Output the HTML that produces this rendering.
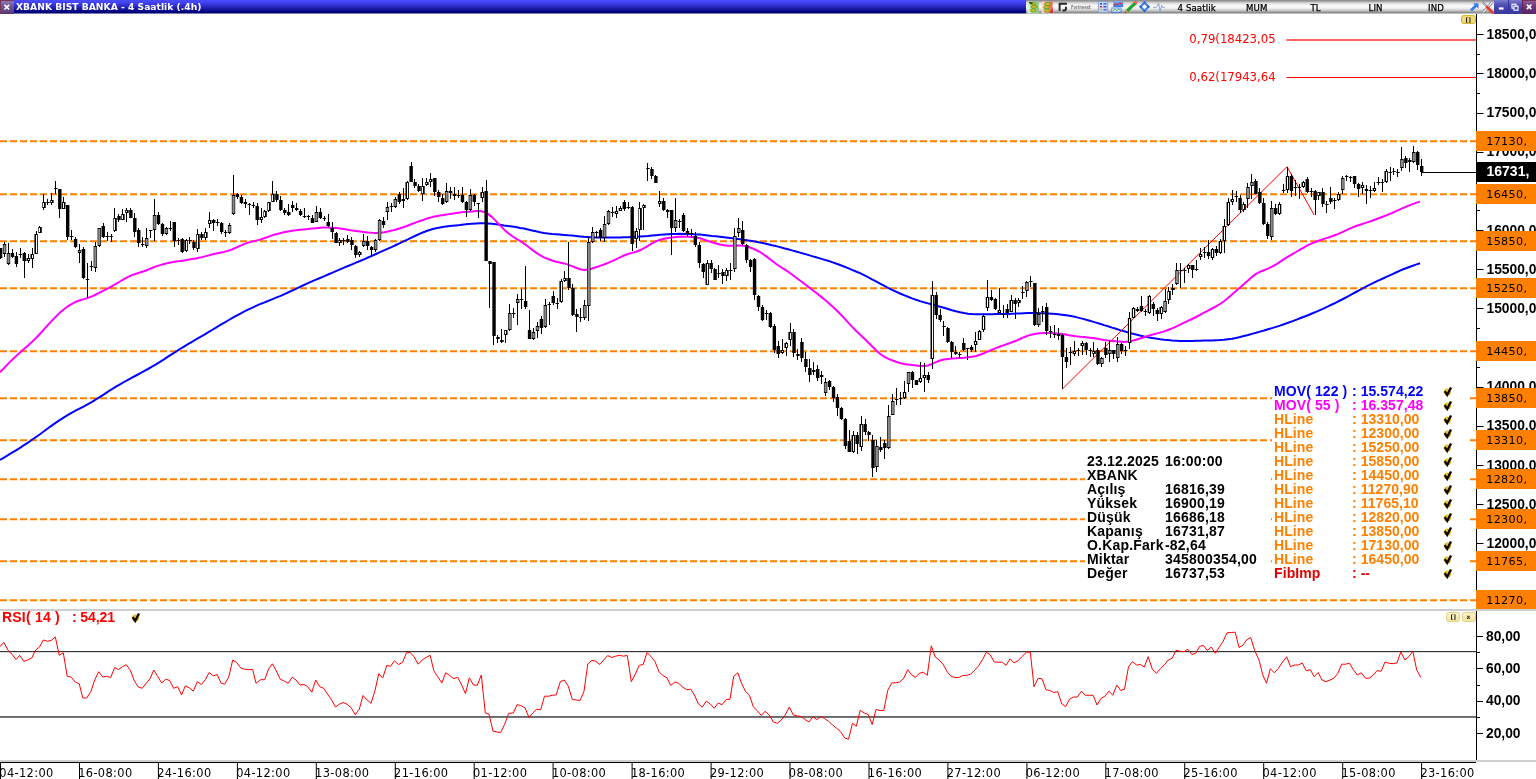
<!DOCTYPE html>
<html><head><meta charset="utf-8"><title>XBANK BIST BANKA - 4 Saatlik (.4h)</title>
<style>
html,body{margin:0;padding:0;background:#fff;}
body{width:1536px;height:779px;overflow:hidden;position:relative;font-family:"DejaVu Sans","Liberation Sans",sans-serif;}
.abs{position:absolute;white-space:nowrap;}
#tb{left:0;top:0;width:1536px;height:14px;background:linear-gradient(#4a4aff 0%,#4646fa 14%,#3030d0 40%,#1818a0 65%,#00007c 86%,#000070 93%,#6a6aa8 93%,#8a8abc 100%);}
#tb2{left:1026px;top:0;width:468px;height:14px;background:linear-gradient(#868686 0%,#9c9c9c 8%,#dcdcdc 22%,#fbfbfb 42%,#f2f2f2 58%,#c4c4c4 76%,#8c8c8c 90%,#7c7c7c 93%,#b4b4b4 93%,#c8c8c8 100%);}
.ttl{left:16px;top:0;height:13px;line-height:13px;color:#fff;font-weight:bold;font-size:9.2px;}
.tt{top:1.5px;height:13px;line-height:13.5px;color:#000;font-size:8.6px;-webkit-text-stroke:0.25px #000;letter-spacing:0.1px;}
.ol{left:1476px;width:60px;height:20px;background:#ff8000;color:#000;font-size:11.2px;line-height:20px;letter-spacing:0.33px;}
.ol span{position:absolute;left:10.2px;top:0.8px;}
.pl{left:1486.5px;font:bold 13.8px "Liberation Sans",sans-serif;color:#000;height:16px;line-height:16px;}
.lg{font:bold 14px "Liberation Sans",sans-serif;height:14px;line-height:14px;letter-spacing:0.2px;}
.tm{top:765.6px;font-size:11.4px;line-height:14px;color:#000;letter-spacing:0.36px;}
.fib{left:1189.3px;font-size:11.7px;color:#ff0000;line-height:14px;}
.wb{top:0;width:14px;height:13.5px;}
.yb{font-weight:bold;background:linear-gradient(#fbf2c4,#f4e4a0);border:1px solid #e2cf88;border-radius:2.5px;box-sizing:border-box;font-size:6px;line-height:7px;text-align:center;color:#222;}
</style></head><body>

<svg class="abs" style="left:0;top:0" width="1536" height="779" viewBox="0 0 1536 779">
<line x1="0" y1="141.3" x2="1476" y2="141.3" stroke="#ff8000" stroke-width="2" stroke-dasharray="7 3"/>
<line x1="0" y1="194.3" x2="1476" y2="194.3" stroke="#ff8000" stroke-width="2" stroke-dasharray="7 3"/>
<line x1="0" y1="241.3" x2="1476" y2="241.3" stroke="#ff8000" stroke-width="2" stroke-dasharray="7 3"/>
<line x1="0" y1="288.3" x2="1476" y2="288.3" stroke="#ff8000" stroke-width="2" stroke-dasharray="7 3"/>
<line x1="0" y1="351.3" x2="1476" y2="351.3" stroke="#ff8000" stroke-width="2" stroke-dasharray="7 3"/>
<line x1="0" y1="398.3" x2="1476" y2="398.3" stroke="#ff8000" stroke-width="2" stroke-dasharray="7 3"/>
<line x1="0" y1="440.3" x2="1476" y2="440.3" stroke="#ff8000" stroke-width="2" stroke-dasharray="7 3"/>
<line x1="0" y1="479.3" x2="1476" y2="479.3" stroke="#ff8000" stroke-width="2" stroke-dasharray="7 3"/>
<line x1="0" y1="519.3" x2="1476" y2="519.3" stroke="#ff8000" stroke-width="2" stroke-dasharray="7 3"/>
<line x1="0" y1="561.3" x2="1476" y2="561.3" stroke="#ff8000" stroke-width="2" stroke-dasharray="7 3"/>
<line x1="0" y1="600.3" x2="1476" y2="600.3" stroke="#ff8000" stroke-width="2" stroke-dasharray="7 3"/>
<line x1="1286.5" y1="40" x2="1476" y2="40" stroke="#ff6464" stroke-width="2"/>
<line x1="1286.5" y1="77.5" x2="1476" y2="77.5" stroke="#ff0000" stroke-width="1"/>
<polyline points="0.0,460.0 4.0,457.6 8.0,455.2 12.0,452.7 16.0,450.3 20.0,447.8 24.0,445.2 28.0,442.6 32.0,439.8 36.0,437.0 40.0,434.2 44.0,431.3 48.0,428.3 52.0,425.4 56.0,422.6 60.0,419.9 64.0,417.3 68.0,414.9 72.0,412.6 76.0,410.4 80.0,408.3 84.0,406.3 88.0,404.1 92.0,401.8 96.0,399.3 100.0,396.8 104.0,394.3 108.0,391.7 112.0,389.2 116.0,386.7 120.0,384.3 124.0,382.0 128.0,379.8 132.0,377.6 136.0,375.5 140.0,373.4 144.0,371.2 148.0,369.0 152.0,366.7 156.0,364.3 160.0,361.9 164.0,359.3 168.0,356.7 172.0,354.1 176.0,351.6 180.0,349.0 184.0,346.6 188.0,344.1 192.0,341.8 196.0,339.4 200.0,337.1 204.0,334.8 208.0,332.4 212.0,330.0 216.0,327.6 220.0,325.2 224.0,322.8 228.0,320.5 232.0,318.2 236.0,315.9 240.0,313.8 244.0,311.7 248.0,309.7 252.0,307.8 256.0,305.9 260.0,304.2 264.0,302.6 268.0,301.0 272.0,299.4 276.0,297.7 280.0,296.1 284.0,294.3 288.0,292.5 292.0,290.6 296.0,288.8 300.0,286.9 304.0,285.0 308.0,283.2 312.0,281.4 316.0,279.7 320.0,278.0 324.0,276.3 328.0,274.5 332.0,272.8 336.0,271.1 340.0,269.4 344.0,267.7 348.0,266.0 352.0,264.3 356.0,262.6 360.0,261.0 364.0,259.3 368.0,257.5 372.0,255.8 376.0,254.0 380.0,252.2 384.0,250.4 388.0,248.6 392.0,246.8 396.0,245.0 400.0,243.1 404.0,241.2 408.0,239.3 412.0,237.4 416.0,235.5 420.0,233.7 424.0,232.0 428.0,230.5 432.0,229.2 436.0,228.2 440.0,227.4 444.0,226.8 448.0,226.3 452.0,225.8 456.0,225.4 460.0,225.0 464.0,224.5 468.0,224.1 472.0,223.7 476.0,223.4 480.0,223.3 484.0,223.3 488.0,223.5 492.0,223.8 496.0,224.2 500.0,224.8 504.0,225.4 508.0,225.9 512.0,226.5 516.0,227.1 520.0,227.9 524.0,228.6 528.0,229.5 532.0,230.4 536.0,231.3 540.0,232.2 544.0,232.9 548.0,233.5 552.0,234.0 556.0,234.3 560.0,234.6 564.0,234.9 568.0,235.3 572.0,235.6 576.0,236.0 580.0,236.4 584.0,236.8 588.0,237.1 592.0,237.4 596.0,237.5 600.0,237.6 604.0,237.6 608.0,237.6 612.0,237.5 616.0,237.4 620.0,237.4 624.0,237.3 628.0,237.2 632.0,237.0 636.0,236.8 640.0,236.6 644.0,236.3 648.0,236.0 652.0,235.6 656.0,235.2 660.0,234.8 664.0,234.5 668.0,234.2 672.0,234.0 676.0,233.9 680.0,233.8 684.0,233.9 688.0,234.0 692.0,234.1 696.0,234.4 700.0,234.6 704.0,235.0 708.0,235.4 712.0,235.9 716.0,236.3 720.0,236.8 724.0,237.3 728.0,237.8 732.0,238.3 736.0,238.8 740.0,239.3 744.0,239.8 748.0,240.4 752.0,241.1 756.0,241.8 760.0,242.5 764.0,243.3 768.0,244.2 772.0,245.2 776.0,246.1 780.0,247.1 784.0,248.2 788.0,249.2 792.0,250.4 796.0,251.5 800.0,252.6 804.0,253.8 808.0,254.9 812.0,256.1 816.0,257.2 820.0,258.4 824.0,259.6 828.0,260.8 832.0,262.1 836.0,263.5 840.0,265.0 844.0,266.5 848.0,268.1 852.0,269.8 856.0,271.5 860.0,273.2 864.0,275.1 868.0,277.2 872.0,279.3 876.0,281.4 880.0,283.6 884.0,285.7 888.0,287.8 892.0,289.9 896.0,291.7 900.0,293.5 904.0,295.2 908.0,296.8 912.0,298.4 916.0,299.8 920.0,301.1 924.0,302.3 928.0,303.4 932.0,304.5 936.0,305.6 940.0,306.7 944.0,307.8 948.0,309.0 952.0,310.2 956.0,311.3 960.0,312.3 964.0,313.1 968.0,313.7 972.0,314.1 976.0,314.3 980.0,314.3 984.0,314.3 988.0,314.3 992.0,314.2 996.0,314.1 1000.0,314.1 1004.0,314.0 1008.0,313.9 1012.0,313.7 1016.0,313.6 1020.0,313.4 1024.0,313.2 1028.0,313.1 1032.0,313.1 1036.0,313.1 1040.0,313.2 1044.0,313.3 1048.0,313.5 1052.0,313.8 1056.0,314.1 1060.0,314.5 1064.0,315.0 1068.0,315.6 1072.0,316.3 1076.0,317.1 1080.0,318.1 1084.0,319.1 1088.0,320.2 1092.0,321.4 1096.0,322.6 1100.0,323.8 1104.0,325.1 1108.0,326.3 1112.0,327.6 1116.0,328.8 1120.0,330.1 1124.0,331.2 1128.0,332.4 1132.0,333.5 1136.0,334.5 1140.0,335.5 1144.0,336.4 1148.0,337.2 1152.0,337.9 1156.0,338.6 1160.0,339.2 1164.0,339.7 1168.0,340.1 1172.0,340.5 1176.0,340.7 1180.0,340.9 1184.0,341.0 1188.0,340.9 1192.0,340.9 1196.0,340.8 1200.0,340.7 1204.0,340.6 1208.0,340.5 1212.0,340.4 1216.0,340.2 1220.0,340.0 1224.0,339.7 1228.0,339.2 1232.0,338.7 1236.0,337.9 1240.0,337.0 1244.0,336.0 1248.0,335.0 1252.0,333.9 1256.0,332.8 1260.0,331.6 1264.0,330.5 1268.0,329.3 1272.0,328.1 1276.0,326.9 1280.0,325.6 1284.0,324.2 1288.0,322.8 1292.0,321.4 1296.0,319.9 1300.0,318.3 1304.0,316.8 1308.0,315.2 1312.0,313.5 1316.0,311.8 1320.0,310.1 1324.0,308.3 1328.0,306.4 1332.0,304.5 1336.0,302.6 1340.0,300.5 1344.0,298.5 1348.0,296.4 1352.0,294.2 1356.0,292.0 1360.0,289.9 1364.0,287.7 1368.0,285.7 1372.0,283.7 1376.0,281.7 1380.0,279.9 1384.0,278.0 1388.0,276.2 1392.0,274.4 1396.0,272.5 1400.0,270.7 1404.0,269.0 1408.0,267.5 1412.0,266.0 1416.0,264.6 1420.0,263.3" fill="none" stroke="#0000ff" stroke-width="2" stroke-linejoin="round"/>
<polyline points="0.0,372.3 4.0,368.1 8.0,363.9 12.0,359.9 16.0,356.1 20.0,352.4 24.0,348.9 28.0,345.5 32.0,341.9 36.0,338.0 40.0,333.7 44.0,329.3 48.0,324.9 52.0,320.6 56.0,316.5 60.0,312.6 64.0,309.2 68.0,306.2 72.0,303.8 76.0,301.7 80.0,300.2 84.0,299.1 88.0,297.9 92.0,296.4 96.0,294.5 100.0,292.4 104.0,290.3 108.0,288.3 112.0,286.2 116.0,283.9 120.0,281.5 124.0,279.1 128.0,276.9 132.0,275.1 136.0,273.7 140.0,272.5 144.0,271.2 148.0,269.7 152.0,268.0 156.0,266.4 160.0,265.1 164.0,264.0 168.0,263.0 172.0,262.2 176.0,261.6 180.0,261.1 184.0,260.5 188.0,259.8 192.0,259.1 196.0,258.4 200.0,257.6 204.0,256.6 208.0,255.6 212.0,254.5 216.0,253.6 220.0,252.7 224.0,251.9 228.0,250.9 232.0,249.5 236.0,247.7 240.0,245.8 244.0,244.1 248.0,242.6 252.0,241.6 256.0,240.6 260.0,239.6 264.0,238.3 268.0,236.9 272.0,235.4 276.0,234.2 280.0,233.2 284.0,232.3 288.0,231.5 292.0,230.8 296.0,230.3 300.0,229.8 304.0,229.4 308.0,229.0 312.0,228.6 316.0,228.2 320.0,227.8 324.0,227.6 328.0,227.5 332.0,227.7 336.0,228.0 340.0,228.5 344.0,229.1 348.0,229.8 352.0,230.4 356.0,231.1 360.0,231.6 364.0,232.1 368.0,232.5 372.0,232.8 376.0,232.9 380.0,232.7 384.0,232.2 388.0,231.5 392.0,230.6 396.0,229.5 400.0,228.3 404.0,227.0 408.0,225.5 412.0,224.0 416.0,222.4 420.0,221.0 424.0,219.6 428.0,218.2 432.0,217.1 436.0,216.2 440.0,215.5 444.0,214.9 448.0,214.3 452.0,213.7 456.0,213.1 460.0,212.6 464.0,212.1 468.0,211.7 472.0,211.4 476.0,211.0 480.0,211.1 484.0,211.9 488.0,213.9 492.0,217.1 496.0,221.1 500.0,225.4 504.0,229.4 508.0,233.0 512.0,236.0 516.0,238.6 520.0,241.0 524.0,243.6 528.0,246.5 532.0,249.6 536.0,252.6 540.0,255.1 544.0,257.3 548.0,259.0 552.0,260.5 556.0,261.7 560.0,262.6 564.0,263.4 568.0,264.6 572.0,266.1 576.0,267.7 580.0,269.2 584.0,269.9 588.0,269.6 592.0,268.5 596.0,267.2 600.0,265.9 604.0,264.5 608.0,262.9 612.0,261.1 616.0,259.3 620.0,257.4 624.0,255.5 628.0,254.0 632.0,252.9 636.0,251.8 640.0,250.3 644.0,248.2 648.0,245.9 652.0,243.4 656.0,241.4 660.0,239.8 664.0,238.7 668.0,237.9 672.0,237.4 676.0,237.0 680.0,236.8 684.0,236.7 688.0,236.7 692.0,237.0 696.0,237.4 700.0,238.2 704.0,239.6 708.0,241.0 712.0,242.4 716.0,243.5 720.0,244.5 724.0,245.2 728.0,245.8 732.0,245.8 736.0,245.6 740.0,245.5 744.0,245.8 748.0,246.8 752.0,248.2 756.0,250.0 760.0,252.0 764.0,254.7 768.0,257.6 772.0,260.7 776.0,263.8 780.0,266.5 784.0,269.1 788.0,271.7 792.0,274.5 796.0,277.5 800.0,280.5 804.0,283.5 808.0,286.6 812.0,289.7 816.0,292.8 820.0,295.9 824.0,299.1 828.0,302.5 832.0,306.0 836.0,309.7 840.0,313.7 844.0,317.9 848.0,322.3 852.0,326.6 856.0,330.7 860.0,334.5 864.0,338.3 868.0,342.2 872.0,346.2 876.0,350.2 880.0,353.7 884.0,356.6 888.0,358.6 892.0,360.2 896.0,361.7 900.0,363.0 904.0,363.9 908.0,364.6 912.0,364.9 916.0,365.4 920.0,365.9 924.0,366.1 928.0,365.5 932.0,363.9 936.0,362.1 940.0,360.5 944.0,359.6 948.0,358.9 952.0,358.5 956.0,358.3 960.0,358.0 964.0,357.7 968.0,357.3 972.0,356.8 976.0,356.0 980.0,354.8 984.0,353.2 988.0,351.4 992.0,349.7 996.0,348.1 1000.0,346.5 1004.0,345.1 1008.0,343.7 1012.0,342.3 1016.0,340.8 1020.0,339.0 1024.0,337.2 1028.0,335.6 1032.0,334.5 1036.0,333.8 1040.0,333.3 1044.0,333.0 1048.0,332.9 1052.0,332.9 1056.0,333.2 1060.0,333.7 1064.0,334.3 1068.0,335.1 1072.0,335.7 1076.0,336.3 1080.0,336.7 1084.0,337.0 1088.0,337.4 1092.0,337.9 1096.0,338.6 1100.0,339.3 1104.0,340.0 1108.0,340.5 1112.0,340.9 1116.0,341.3 1120.0,341.6 1124.0,341.9 1128.0,341.6 1132.0,340.9 1136.0,339.8 1140.0,338.5 1144.0,337.2 1148.0,335.9 1152.0,334.7 1156.0,333.6 1160.0,332.6 1164.0,331.4 1168.0,330.0 1172.0,328.4 1176.0,326.6 1180.0,324.6 1184.0,322.7 1188.0,320.9 1192.0,319.0 1196.0,317.0 1200.0,314.8 1204.0,312.6 1208.0,310.6 1212.0,308.5 1216.0,306.3 1220.0,304.0 1224.0,301.2 1228.0,298.0 1232.0,294.4 1236.0,290.9 1240.0,287.4 1244.0,283.9 1248.0,280.4 1252.0,276.9 1256.0,273.9 1260.0,271.8 1264.0,270.2 1268.0,268.6 1272.0,266.7 1276.0,264.5 1280.0,261.9 1284.0,259.2 1288.0,256.7 1292.0,254.3 1296.0,252.0 1300.0,249.7 1304.0,247.3 1308.0,245.2 1312.0,243.3 1316.0,241.7 1320.0,240.2 1324.0,238.9 1328.0,237.6 1332.0,236.3 1336.0,234.8 1340.0,233.1 1344.0,231.3 1348.0,229.4 1352.0,227.6 1356.0,226.0 1360.0,224.7 1364.0,223.4 1368.0,222.1 1372.0,220.8 1376.0,219.3 1380.0,217.8 1384.0,216.2 1388.0,214.6 1392.0,213.0 1396.0,211.2 1400.0,209.4 1404.0,207.7 1408.0,205.9 1412.0,204.4 1416.0,202.9 1420.0,201.6" fill="none" stroke="#ff00ff" stroke-width="2" stroke-linejoin="round"/>
<polyline points="1062.2,389.2 1287,166.7 1314.2,215" fill="none" stroke="#ff0000" stroke-width="1"/>
<g fill="#000"><rect x="0" y="248" width="1" height="11"/><rect x="-1.10" y="248" width="3.4" height="10"/><rect x="4" y="242" width="1" height="15"/><rect x="2.85" y="244" width="3.4" height="10"/><rect x="3.45" y="245" width="2.2" height="8" fill="#8a8a8a"/><rect x="8" y="243" width="1" height="22"/><rect x="6.79" y="253" width="3.4" height="11"/><rect x="7.39" y="254" width="2.2" height="9" fill="#8a8a8a"/><rect x="12" y="249" width="1" height="9"/><rect x="10.74" y="253" width="3.4" height="4"/><rect x="16" y="252" width="1" height="15"/><rect x="14.69" y="256" width="3.4" height="8"/><rect x="20" y="248" width="1" height="10"/><rect x="18.64" y="254" width="3.4" height="1"/><rect x="24" y="252" width="1" height="26"/><rect x="22.59" y="253" width="3.4" height="8"/><rect x="28" y="254" width="1" height="9"/><rect x="26.53" y="258" width="3.4" height="3"/><rect x="28" y="259" width="1" height="1" fill="#fff"/><rect x="32" y="248" width="1" height="20"/><rect x="30.48" y="254" width="3.4" height="5"/><rect x="32" y="255" width="1" height="3" fill="#fff"/><rect x="36" y="231" width="1" height="23"/><rect x="34.43" y="234" width="3.4" height="20"/><rect x="36" y="235" width="1" height="18" fill="#fff"/><rect x="39" y="226" width="1" height="7"/><rect x="38.37" y="227" width="3.4" height="6"/><rect x="39" y="228" width="1" height="4" fill="#fff"/><rect x="43" y="194" width="1" height="16"/><rect x="42.32" y="202" width="3.4" height="6"/><rect x="43" y="203" width="1" height="4" fill="#fff"/><rect x="47" y="199" width="1" height="6"/><rect x="46.27" y="202" width="3.4" height="1"/><rect x="51" y="193" width="1" height="12"/><rect x="50.22" y="200" width="3.4" height="3"/><rect x="51" y="201" width="1" height="1" fill="#fff"/><rect x="55" y="181" width="1" height="13"/><rect x="54.16" y="188" width="3.4" height="1"/><rect x="59" y="189" width="1" height="29"/><rect x="58.11" y="189" width="3.4" height="20"/><rect x="63" y="197" width="1" height="12"/><rect x="62.06" y="202" width="3.4" height="7"/><rect x="63" y="203" width="1" height="5" fill="#fff"/><rect x="67" y="205" width="1" height="35"/><rect x="66.01" y="205" width="3.4" height="32"/><rect x="71" y="230" width="1" height="10"/><rect x="69.95" y="236" width="3.4" height="1"/><rect x="75" y="237" width="1" height="11"/><rect x="73.90" y="239" width="3.4" height="8"/><rect x="79" y="244" width="1" height="19"/><rect x="77.85" y="250" width="3.4" height="3"/><rect x="78.45" y="251" width="2.2" height="1" fill="#8a8a8a"/><rect x="83" y="247" width="1" height="32"/><rect x="81.80" y="249" width="3.4" height="29"/><rect x="87" y="263" width="1" height="35"/><rect x="85.74" y="279" width="3.4" height="1"/><rect x="91" y="261" width="1" height="10"/><rect x="89.69" y="266" width="3.4" height="1"/><rect x="95" y="242" width="1" height="30"/><rect x="93.64" y="246" width="3.4" height="22"/><rect x="94.24" y="247" width="2.2" height="20" fill="#8a8a8a"/><rect x="99" y="228" width="1" height="19"/><rect x="97.59" y="228" width="3.4" height="18"/><rect x="98.19" y="229" width="2.2" height="16" fill="#8a8a8a"/><rect x="103" y="223" width="1" height="15"/><rect x="101.53" y="226" width="3.4" height="11"/><rect x="107" y="232" width="1" height="9"/><rect x="105.48" y="236" width="3.4" height="1"/><rect x="111" y="234" width="1" height="8"/><rect x="109.43" y="236" width="3.4" height="1"/><rect x="114" y="208" width="1" height="24"/><rect x="113.38" y="218" width="3.4" height="13"/><rect x="114" y="219" width="1" height="11" fill="#fff"/><rect x="118" y="214" width="1" height="8"/><rect x="117.32" y="216" width="3.4" height="4"/><rect x="122" y="209" width="1" height="11"/><rect x="121.27" y="214" width="3.4" height="6"/><rect x="122" y="215" width="1" height="4" fill="#fff"/><rect x="126" y="208" width="1" height="14"/><rect x="125.22" y="210" width="3.4" height="3"/><rect x="126" y="211" width="1" height="1" fill="#fff"/><rect x="130" y="208" width="1" height="10"/><rect x="129.17" y="210" width="3.4" height="8"/><rect x="134" y="213" width="1" height="24"/><rect x="133.12" y="218" width="3.4" height="14"/><rect x="138" y="228" width="1" height="19"/><rect x="137.06" y="230" width="3.4" height="13"/><rect x="142" y="237" width="1" height="10"/><rect x="141.01" y="244" width="3.4" height="1"/><rect x="146" y="228" width="1" height="20"/><rect x="144.96" y="238" width="3.4" height="8"/><rect x="145.56" y="239" width="2.2" height="6" fill="#8a8a8a"/><rect x="150" y="230" width="1" height="8"/><rect x="148.91" y="230" width="3.4" height="1"/><rect x="154" y="199" width="1" height="42"/><rect x="152.85" y="215" width="3.4" height="15"/><rect x="153.45" y="216" width="2.2" height="13" fill="#8a8a8a"/><rect x="158" y="212" width="1" height="13"/><rect x="156.80" y="215" width="3.4" height="9"/><rect x="162" y="223" width="1" height="13"/><rect x="160.75" y="224" width="3.4" height="10"/><rect x="166" y="227" width="1" height="8"/><rect x="164.69" y="228" width="3.4" height="6"/><rect x="165.29" y="229" width="2.2" height="4" fill="#8a8a8a"/><rect x="170" y="221" width="1" height="10"/><rect x="168.64" y="228" width="3.4" height="1"/><rect x="174" y="222" width="1" height="25"/><rect x="172.59" y="222" width="3.4" height="19"/><rect x="178" y="238" width="1" height="7"/><rect x="176.54" y="240" width="3.4" height="1"/><rect x="182" y="238" width="1" height="15"/><rect x="180.48" y="239" width="3.4" height="13"/><rect x="186" y="239" width="1" height="13"/><rect x="184.43" y="240" width="3.4" height="11"/><rect x="186" y="241" width="1" height="9" fill="#fff"/><rect x="189" y="237" width="1" height="7"/><rect x="188.38" y="240" width="3.4" height="1"/><rect x="193" y="240" width="1" height="10"/><rect x="192.33" y="242" width="3.4" height="6"/><rect x="197" y="229" width="1" height="23"/><rect x="196.28" y="234" width="3.4" height="15"/><rect x="197" y="235" width="1" height="13" fill="#fff"/><rect x="201" y="232" width="1" height="8"/><rect x="200.22" y="234" width="3.4" height="4"/><rect x="205" y="228" width="1" height="12"/><rect x="204.17" y="232" width="3.4" height="6"/><rect x="205" y="233" width="1" height="4" fill="#fff"/><rect x="209" y="212" width="1" height="16"/><rect x="208.12" y="220" width="3.4" height="4"/><rect x="209" y="221" width="1" height="2" fill="#fff"/><rect x="213" y="219" width="1" height="12"/><rect x="212.06" y="220" width="3.4" height="3"/><rect x="217" y="219" width="1" height="7"/><rect x="216.01" y="222" width="3.4" height="1"/><rect x="221" y="222" width="1" height="12"/><rect x="219.96" y="223" width="3.4" height="9"/><rect x="225" y="230" width="1" height="7"/><rect x="223.91" y="232" width="3.4" height="1"/><rect x="229" y="223" width="1" height="11"/><rect x="227.85" y="225" width="3.4" height="8"/><rect x="228.45" y="226" width="2.2" height="6" fill="#8a8a8a"/><rect x="233" y="175" width="1" height="40"/><rect x="231.80" y="195" width="3.4" height="19"/><rect x="232.40" y="196" width="2.2" height="17" fill="#8a8a8a"/><rect x="237" y="193" width="1" height="6"/><rect x="235.75" y="194" width="3.4" height="3"/><rect x="241" y="195" width="1" height="9"/><rect x="239.70" y="197" width="3.4" height="6"/><rect x="245" y="199" width="1" height="9"/><rect x="243.64" y="202" width="3.4" height="2"/><rect x="249" y="203" width="1" height="12"/><rect x="247.59" y="204" width="3.4" height="1"/><rect x="253" y="202" width="1" height="6"/><rect x="251.54" y="205" width="3.4" height="1"/><rect x="257" y="203" width="1" height="22"/><rect x="255.49" y="206" width="3.4" height="14"/><rect x="261" y="208" width="1" height="15"/><rect x="259.44" y="217" width="3.4" height="3"/><rect x="261" y="218" width="1" height="1" fill="#fff"/><rect x="264" y="210" width="1" height="8"/><rect x="263.38" y="211" width="3.4" height="6"/><rect x="264" y="212" width="1" height="4" fill="#fff"/><rect x="268" y="202" width="1" height="10"/><rect x="267.33" y="202" width="3.4" height="9"/><rect x="268" y="203" width="1" height="7" fill="#fff"/><rect x="272" y="181" width="1" height="21"/><rect x="271.28" y="194" width="3.4" height="8"/><rect x="272" y="195" width="1" height="6" fill="#fff"/><rect x="276" y="191" width="1" height="11"/><rect x="275.23" y="194" width="3.4" height="6"/><rect x="280" y="196" width="1" height="15"/><rect x="279.17" y="200" width="3.4" height="10"/><rect x="284" y="208" width="1" height="7"/><rect x="283.12" y="210" width="3.4" height="3"/><rect x="288" y="204" width="1" height="12"/><rect x="287.07" y="212" width="3.4" height="3"/><rect x="292" y="201" width="1" height="11"/><rect x="291.02" y="205" width="3.4" height="3"/><rect x="296" y="203" width="1" height="8"/><rect x="294.96" y="208" width="3.4" height="2"/><rect x="300" y="209" width="1" height="7"/><rect x="298.91" y="211" width="3.4" height="4"/><rect x="304" y="208" width="1" height="10"/><rect x="302.86" y="216" width="3.4" height="1"/><rect x="308" y="215" width="1" height="5"/><rect x="306.81" y="216" width="3.4" height="1"/><rect x="312" y="215" width="1" height="8"/><rect x="310.75" y="218" width="3.4" height="5"/><rect x="316" y="206" width="1" height="16"/><rect x="314.70" y="212" width="3.4" height="10"/><rect x="315.30" y="213" width="2.2" height="8" fill="#8a8a8a"/><rect x="320" y="208" width="1" height="11"/><rect x="318.65" y="212" width="3.4" height="6"/><rect x="324" y="216" width="1" height="5"/><rect x="322.60" y="218" width="3.4" height="1"/><rect x="328" y="214" width="1" height="13"/><rect x="326.54" y="222" width="3.4" height="4"/><rect x="332" y="222" width="1" height="17"/><rect x="330.49" y="228" width="3.4" height="4"/><rect x="336" y="232" width="1" height="11"/><rect x="334.44" y="233" width="3.4" height="10"/><rect x="339" y="238" width="1" height="8"/><rect x="338.38" y="240" width="3.4" height="3"/><rect x="339" y="241" width="1" height="1" fill="#fff"/><rect x="343" y="238" width="1" height="7"/><rect x="342.33" y="240" width="3.4" height="1"/><rect x="347" y="235" width="1" height="8"/><rect x="346.28" y="239" width="3.4" height="3"/><rect x="351" y="237" width="1" height="13"/><rect x="350.23" y="240" width="3.4" height="5"/><rect x="355" y="245" width="1" height="13"/><rect x="354.18" y="246" width="3.4" height="9"/><rect x="359" y="251" width="1" height="6"/><rect x="358.12" y="252" width="3.4" height="3"/><rect x="359" y="253" width="1" height="1" fill="#fff"/><rect x="363" y="234" width="1" height="13"/><rect x="362.07" y="241" width="3.4" height="5"/><rect x="362.67" y="242" width="2.2" height="3" fill="#8a8a8a"/><rect x="367" y="236" width="1" height="14"/><rect x="366.02" y="241" width="3.4" height="5"/><rect x="371" y="246" width="1" height="10"/><rect x="369.97" y="247" width="3.4" height="3"/><rect x="375" y="239" width="1" height="13"/><rect x="373.91" y="240" width="3.4" height="10"/><rect x="374.51" y="241" width="2.2" height="8" fill="#8a8a8a"/><rect x="379" y="219" width="1" height="22"/><rect x="377.86" y="220" width="3.4" height="20"/><rect x="378.46" y="221" width="2.2" height="18" fill="#8a8a8a"/><rect x="383" y="217" width="1" height="11"/><rect x="381.81" y="221" width="3.4" height="4"/><rect x="387" y="202" width="1" height="18"/><rect x="385.75" y="207" width="3.4" height="5"/><rect x="386.36" y="208" width="2.2" height="3" fill="#8a8a8a"/><rect x="391" y="203" width="1" height="9"/><rect x="389.70" y="206" width="3.4" height="1"/><rect x="395" y="197" width="1" height="11"/><rect x="393.65" y="199" width="3.4" height="8"/><rect x="394.25" y="200" width="2.2" height="6" fill="#8a8a8a"/><rect x="399" y="192" width="1" height="12"/><rect x="397.60" y="194" width="3.4" height="8"/><rect x="403" y="188" width="1" height="20"/><rect x="401.55" y="199" width="3.4" height="2"/><rect x="407" y="181" width="1" height="19"/><rect x="405.49" y="182" width="3.4" height="17"/><rect x="407" y="183" width="1" height="15" fill="#fff"/><rect x="411" y="162" width="1" height="20"/><rect x="409.44" y="166" width="3.4" height="16"/><rect x="414" y="179" width="1" height="9"/><rect x="413.39" y="182" width="3.4" height="4"/><rect x="418" y="184" width="1" height="8"/><rect x="417.34" y="186" width="3.4" height="5"/><rect x="422" y="178" width="1" height="23"/><rect x="421.28" y="186" width="3.4" height="8"/><rect x="422" y="187" width="1" height="6" fill="#fff"/><rect x="426" y="178" width="1" height="8"/><rect x="425.23" y="182" width="3.4" height="3"/><rect x="426" y="183" width="1" height="1" fill="#fff"/><rect x="430" y="173" width="1" height="14"/><rect x="429.18" y="179" width="3.4" height="3"/><rect x="430" y="180" width="1" height="1" fill="#fff"/><rect x="434" y="178" width="1" height="18"/><rect x="433.12" y="178" width="3.4" height="14"/><rect x="438" y="190" width="1" height="12"/><rect x="437.07" y="192" width="3.4" height="5"/><rect x="442" y="194" width="1" height="11"/><rect x="441.02" y="198" width="3.4" height="6"/><rect x="446" y="183" width="1" height="20"/><rect x="444.97" y="191" width="3.4" height="11"/><rect x="445.57" y="192" width="2.2" height="9" fill="#8a8a8a"/><rect x="450" y="187" width="1" height="12"/><rect x="448.92" y="191" width="3.4" height="2"/><rect x="454" y="187" width="1" height="13"/><rect x="452.86" y="194" width="3.4" height="2"/><rect x="458" y="190" width="1" height="8"/><rect x="456.81" y="195" width="3.4" height="1"/><rect x="462" y="187" width="1" height="16"/><rect x="460.76" y="195" width="3.4" height="7"/><rect x="466" y="201" width="1" height="16"/><rect x="464.70" y="202" width="3.4" height="8"/><rect x="470" y="189" width="1" height="22"/><rect x="468.65" y="195" width="3.4" height="15"/><rect x="469.25" y="196" width="2.2" height="13" fill="#8a8a8a"/><rect x="474" y="194" width="1" height="12"/><rect x="472.60" y="195" width="3.4" height="7"/><rect x="478" y="203" width="1" height="15"/><rect x="476.55" y="203" width="3.4" height="1"/><rect x="482" y="187" width="1" height="15"/><rect x="480.50" y="192" width="3.4" height="6"/><rect x="482" y="193" width="1" height="4" fill="#fff"/><rect x="486" y="180" width="1" height="81"/><rect x="484.44" y="191" width="3.4" height="70"/><rect x="489" y="261" width="1" height="47"/><rect x="488.39" y="261" width="3.4" height="3"/><rect x="493" y="262" width="1" height="83"/><rect x="492.34" y="262" width="3.4" height="74"/><rect x="497" y="335" width="1" height="8"/><rect x="496.29" y="337" width="3.4" height="2"/><rect x="501" y="329" width="1" height="14"/><rect x="500.23" y="340" width="3.4" height="2"/><rect x="505" y="330" width="1" height="13"/><rect x="504.18" y="330" width="3.4" height="5"/><rect x="505" y="331" width="1" height="3" fill="#fff"/><rect x="509" y="304" width="1" height="27"/><rect x="508.13" y="313" width="3.4" height="17"/><rect x="508.73" y="314" width="2.2" height="15" fill="#8a8a8a"/><rect x="513" y="308" width="1" height="10"/><rect x="512.07" y="313" width="3.4" height="1"/><rect x="517" y="294" width="1" height="31"/><rect x="516.02" y="299" width="3.4" height="4"/><rect x="516.62" y="300" width="2.2" height="2" fill="#8a8a8a"/><rect x="521" y="289" width="1" height="20"/><rect x="519.97" y="299" width="3.4" height="1"/><rect x="525" y="266" width="1" height="43"/><rect x="523.92" y="301" width="3.4" height="6"/><rect x="529" y="310" width="1" height="29"/><rect x="527.86" y="330" width="3.4" height="9"/><rect x="533" y="328" width="1" height="12"/><rect x="531.81" y="332" width="3.4" height="7"/><rect x="532.41" y="333" width="2.2" height="5" fill="#8a8a8a"/><rect x="537" y="322" width="1" height="16"/><rect x="535.76" y="326" width="3.4" height="5"/><rect x="536.36" y="327" width="2.2" height="3" fill="#8a8a8a"/><rect x="541" y="316" width="1" height="18"/><rect x="539.71" y="319" width="3.4" height="9"/><rect x="545" y="299" width="1" height="29"/><rect x="543.65" y="305" width="3.4" height="22"/><rect x="544.25" y="306" width="2.2" height="20" fill="#8a8a8a"/><rect x="549" y="302" width="1" height="23"/><rect x="547.60" y="304" width="3.4" height="1"/><rect x="553" y="291" width="1" height="14"/><rect x="551.55" y="296" width="3.4" height="7"/><rect x="557" y="298" width="1" height="11"/><rect x="555.50" y="303" width="3.4" height="1"/><rect x="561" y="279" width="1" height="24"/><rect x="559.44" y="281" width="3.4" height="21"/><rect x="561" y="282" width="1" height="19" fill="#fff"/><rect x="564" y="271" width="1" height="11"/><rect x="563.39" y="278" width="3.4" height="3"/><rect x="564" y="279" width="1" height="1" fill="#fff"/><rect x="568" y="242" width="1" height="48"/><rect x="567.34" y="278" width="3.4" height="10"/><rect x="572" y="284" width="1" height="32"/><rect x="571.29" y="288" width="3.4" height="27"/><rect x="576" y="309" width="1" height="23"/><rect x="575.23" y="314" width="3.4" height="3"/><rect x="580" y="308" width="1" height="14"/><rect x="579.18" y="317" width="3.4" height="1"/><rect x="584" y="300" width="1" height="20"/><rect x="583.13" y="305" width="3.4" height="13"/><rect x="583.73" y="306" width="2.2" height="11" fill="#8a8a8a"/><rect x="588" y="237" width="1" height="84"/><rect x="587.08" y="242" width="3.4" height="64"/><rect x="587.68" y="243" width="2.2" height="62" fill="#8a8a8a"/><rect x="592" y="227" width="1" height="16"/><rect x="591.02" y="232" width="3.4" height="10"/><rect x="591.62" y="233" width="2.2" height="8" fill="#8a8a8a"/><rect x="596" y="231" width="1" height="7"/><rect x="594.97" y="232" width="3.4" height="1"/><rect x="600" y="228" width="1" height="13"/><rect x="598.92" y="230" width="3.4" height="8"/><rect x="604" y="216" width="1" height="26"/><rect x="602.87" y="224" width="3.4" height="14"/><rect x="603.47" y="225" width="2.2" height="12" fill="#8a8a8a"/><rect x="608" y="210" width="1" height="15"/><rect x="606.81" y="211" width="3.4" height="13"/><rect x="607.41" y="212" width="2.2" height="11" fill="#8a8a8a"/><rect x="612" y="207" width="1" height="10"/><rect x="610.76" y="212" width="3.4" height="1"/><rect x="616" y="206" width="1" height="12"/><rect x="614.71" y="211" width="3.4" height="3"/><rect x="616" y="212" width="1" height="1" fill="#fff"/><rect x="620" y="206" width="1" height="5"/><rect x="618.66" y="208" width="3.4" height="3"/><rect x="620" y="209" width="1" height="1" fill="#fff"/><rect x="624" y="200" width="1" height="11"/><rect x="622.60" y="202" width="3.4" height="7"/><rect x="628" y="202" width="1" height="7"/><rect x="626.55" y="207" width="3.4" height="1"/><rect x="632" y="206" width="1" height="45"/><rect x="630.50" y="207" width="3.4" height="37"/><rect x="636" y="228" width="1" height="20"/><rect x="634.45" y="231" width="3.4" height="8"/><rect x="636" y="232" width="1" height="6" fill="#fff"/><rect x="639" y="202" width="1" height="39"/><rect x="638.39" y="208" width="3.4" height="22"/><rect x="639" y="209" width="1" height="20" fill="#fff"/><rect x="643" y="204" width="1" height="26"/><rect x="642.34" y="205" width="3.4" height="3"/><rect x="643" y="206" width="1" height="1" fill="#fff"/><rect x="647" y="163" width="1" height="18"/><rect x="646.29" y="168" width="3.4" height="1"/><rect x="651" y="167" width="1" height="12"/><rect x="650.24" y="169" width="3.4" height="7"/><rect x="655" y="175" width="1" height="8"/><rect x="654.18" y="176" width="3.4" height="7"/><rect x="659" y="191" width="1" height="16"/><rect x="658.13" y="201" width="3.4" height="3"/><rect x="659" y="202" width="1" height="1" fill="#fff"/><rect x="663" y="198" width="1" height="13"/><rect x="662.08" y="201" width="3.4" height="9"/><rect x="667" y="209" width="1" height="9"/><rect x="666.03" y="210" width="3.4" height="2"/><rect x="671" y="210" width="1" height="45"/><rect x="669.97" y="210" width="3.4" height="18"/><rect x="675" y="198" width="1" height="34"/><rect x="673.92" y="220" width="3.4" height="8"/><rect x="674.52" y="221" width="2.2" height="6" fill="#8a8a8a"/><rect x="679" y="219" width="1" height="9"/><rect x="677.87" y="221" width="3.4" height="1"/><rect x="683" y="213" width="1" height="19"/><rect x="681.82" y="215" width="3.4" height="16"/><rect x="687" y="228" width="1" height="9"/><rect x="685.76" y="231" width="3.4" height="3"/><rect x="691" y="229" width="1" height="9"/><rect x="689.71" y="233" width="3.4" height="1"/><rect x="695" y="232" width="1" height="15"/><rect x="693.66" y="236" width="3.4" height="9"/><rect x="699" y="242" width="1" height="26"/><rect x="697.61" y="245" width="3.4" height="18"/><rect x="703" y="263" width="1" height="15"/><rect x="701.55" y="264" width="3.4" height="8"/><rect x="707" y="260" width="1" height="25"/><rect x="705.50" y="263" width="3.4" height="22"/><rect x="707" y="264" width="1" height="20" fill="#fff"/><rect x="711" y="260" width="1" height="13"/><rect x="709.45" y="263" width="3.4" height="6"/><rect x="714" y="268" width="1" height="12"/><rect x="713.40" y="269" width="3.4" height="11"/><rect x="718" y="265" width="1" height="13"/><rect x="717.34" y="273" width="3.4" height="1"/><rect x="722" y="269" width="1" height="15"/><rect x="721.29" y="272" width="3.4" height="4"/><rect x="726" y="268" width="1" height="13"/><rect x="725.24" y="270" width="3.4" height="6"/><rect x="726" y="271" width="1" height="4" fill="#fff"/><rect x="730" y="263" width="1" height="17"/><rect x="729.19" y="270" width="3.4" height="1"/><rect x="734" y="228" width="1" height="44"/><rect x="733.13" y="236" width="3.4" height="33"/><rect x="733.74" y="237" width="2.2" height="31" fill="#8a8a8a"/><rect x="738" y="218" width="1" height="19"/><rect x="737.08" y="228" width="3.4" height="5"/><rect x="737.68" y="229" width="2.2" height="3" fill="#8a8a8a"/><rect x="742" y="221" width="1" height="24"/><rect x="741.03" y="230" width="3.4" height="14"/><rect x="746" y="244" width="1" height="19"/><rect x="744.98" y="245" width="3.4" height="15"/><rect x="750" y="259" width="1" height="13"/><rect x="748.92" y="260" width="3.4" height="7"/><rect x="754" y="258" width="1" height="42"/><rect x="752.87" y="259" width="3.4" height="36"/><rect x="758" y="295" width="1" height="16"/><rect x="756.82" y="296" width="3.4" height="11"/><rect x="762" y="305" width="1" height="16"/><rect x="760.77" y="307" width="3.4" height="13"/><rect x="766" y="310" width="1" height="10"/><rect x="764.71" y="313" width="3.4" height="1"/><rect x="770" y="312" width="1" height="16"/><rect x="768.66" y="313" width="3.4" height="14"/><rect x="774" y="324" width="1" height="29"/><rect x="772.61" y="326" width="3.4" height="24"/><rect x="778" y="341" width="1" height="17"/><rect x="776.56" y="346" width="3.4" height="8"/><rect x="782" y="339" width="1" height="15"/><rect x="780.50" y="350" width="3.4" height="3"/><rect x="782" y="351" width="1" height="1" fill="#fff"/><rect x="786" y="342" width="1" height="14"/><rect x="784.45" y="343" width="3.4" height="5"/><rect x="786" y="344" width="1" height="3" fill="#fff"/><rect x="790" y="323" width="1" height="23"/><rect x="788.40" y="332" width="3.4" height="8"/><rect x="790" y="333" width="1" height="6" fill="#fff"/><rect x="793" y="329" width="1" height="28"/><rect x="792.35" y="332" width="3.4" height="21"/><rect x="797" y="349" width="1" height="11"/><rect x="796.29" y="354" width="3.4" height="2"/><rect x="801" y="338" width="1" height="24"/><rect x="800.24" y="342" width="3.4" height="16"/><rect x="805" y="352" width="1" height="20"/><rect x="804.19" y="359" width="3.4" height="8"/><rect x="809" y="359" width="1" height="23"/><rect x="808.14" y="368" width="3.4" height="7"/><rect x="813" y="362" width="1" height="13"/><rect x="812.08" y="370" width="3.4" height="2"/><rect x="817" y="365" width="1" height="16"/><rect x="816.03" y="369" width="3.4" height="9"/><rect x="821" y="371" width="1" height="13"/><rect x="819.98" y="375" width="3.4" height="2"/><rect x="825" y="378" width="1" height="18"/><rect x="823.93" y="382" width="3.4" height="11"/><rect x="824.53" y="383" width="2.2" height="9" fill="#8a8a8a"/><rect x="829" y="380" width="1" height="10"/><rect x="827.87" y="381" width="3.4" height="6"/><rect x="833" y="386" width="1" height="16"/><rect x="831.82" y="387" width="3.4" height="11"/><rect x="837" y="394" width="1" height="22"/><rect x="835.77" y="397" width="3.4" height="11"/><rect x="841" y="407" width="1" height="13"/><rect x="839.72" y="408" width="3.4" height="11"/><rect x="845" y="418" width="1" height="31"/><rect x="843.66" y="419" width="3.4" height="27"/><rect x="849" y="430" width="1" height="22"/><rect x="847.61" y="441" width="3.4" height="11"/><rect x="853" y="431" width="1" height="22"/><rect x="851.56" y="435" width="3.4" height="17"/><rect x="853" y="436" width="1" height="15" fill="#fff"/><rect x="857" y="432" width="1" height="22"/><rect x="855.51" y="435" width="3.4" height="9"/><rect x="861" y="416" width="1" height="35"/><rect x="859.45" y="424" width="3.4" height="23"/><rect x="861" y="425" width="1" height="21" fill="#fff"/><rect x="865" y="419" width="1" height="16"/><rect x="863.40" y="424" width="3.4" height="8"/><rect x="868" y="431" width="1" height="10"/><rect x="867.35" y="432" width="3.4" height="3"/><rect x="872" y="435" width="1" height="42"/><rect x="871.30" y="440" width="3.4" height="28"/><rect x="876" y="440" width="1" height="32"/><rect x="875.24" y="446" width="3.4" height="21"/><rect x="875.84" y="447" width="2.2" height="19" fill="#8a8a8a"/><rect x="880" y="437" width="1" height="15"/><rect x="879.19" y="447" width="3.4" height="3"/><rect x="884" y="440" width="1" height="19"/><rect x="883.14" y="443" width="3.4" height="5"/><rect x="888" y="405" width="1" height="44"/><rect x="887.09" y="416" width="3.4" height="32"/><rect x="887.69" y="417" width="2.2" height="30" fill="#8a8a8a"/><rect x="892" y="394" width="1" height="21"/><rect x="891.03" y="401" width="3.4" height="14"/><rect x="891.63" y="402" width="2.2" height="12" fill="#8a8a8a"/><rect x="896" y="388" width="1" height="17"/><rect x="894.98" y="399" width="3.4" height="1"/><rect x="900" y="392" width="1" height="13"/><rect x="898.93" y="398" width="3.4" height="1"/><rect x="904" y="381" width="1" height="18"/><rect x="902.88" y="392" width="3.4" height="6"/><rect x="904" y="393" width="1" height="4" fill="#fff"/><rect x="908" y="372" width="1" height="20"/><rect x="906.82" y="372" width="3.4" height="12"/><rect x="907.42" y="373" width="2.2" height="10" fill="#8a8a8a"/><rect x="912" y="371" width="1" height="17"/><rect x="910.77" y="372" width="3.4" height="8"/><rect x="916" y="380" width="1" height="5"/><rect x="914.72" y="380" width="3.4" height="5"/><rect x="920" y="362" width="1" height="21"/><rect x="918.67" y="378" width="3.4" height="4"/><rect x="920" y="379" width="1" height="2" fill="#fff"/><rect x="924" y="363" width="1" height="29"/><rect x="922.61" y="375" width="3.4" height="3"/><rect x="924" y="376" width="1" height="1" fill="#fff"/><rect x="928" y="372" width="1" height="11"/><rect x="926.56" y="375" width="3.4" height="5"/><rect x="932" y="281" width="1" height="88"/><rect x="930.51" y="295" width="3.4" height="64"/><rect x="932" y="296" width="1" height="62" fill="#fff"/><rect x="936" y="292" width="1" height="27"/><rect x="934.46" y="295" width="3.4" height="20"/><rect x="940" y="309" width="1" height="13"/><rect x="938.40" y="315" width="3.4" height="5"/><rect x="943" y="321" width="1" height="15"/><rect x="942.35" y="326" width="3.4" height="1"/><rect x="947" y="327" width="1" height="16"/><rect x="946.30" y="328" width="3.4" height="14"/><rect x="951" y="341" width="1" height="17"/><rect x="950.25" y="342" width="3.4" height="10"/><rect x="955" y="346" width="1" height="9"/><rect x="954.19" y="352" width="3.4" height="2"/><rect x="959" y="352" width="1" height="7"/><rect x="958.14" y="354" width="3.4" height="1"/><rect x="963" y="338" width="1" height="13"/><rect x="962.09" y="343" width="3.4" height="7"/><rect x="967" y="348" width="1" height="12"/><rect x="966.04" y="348" width="3.4" height="1"/><rect x="971" y="345" width="1" height="7"/><rect x="969.98" y="347" width="3.4" height="3"/><rect x="975" y="332" width="1" height="20"/><rect x="973.93" y="341" width="3.4" height="4"/><rect x="975" y="342" width="1" height="2" fill="#fff"/><rect x="979" y="330" width="1" height="10"/><rect x="977.88" y="331" width="3.4" height="9"/><rect x="979" y="332" width="1" height="7" fill="#fff"/><rect x="983" y="315" width="1" height="17"/><rect x="981.83" y="316" width="3.4" height="14"/><rect x="983" y="317" width="1" height="12" fill="#fff"/><rect x="987" y="280" width="1" height="31"/><rect x="985.77" y="297" width="3.4" height="11"/><rect x="987" y="298" width="1" height="9" fill="#fff"/><rect x="991" y="290" width="1" height="11"/><rect x="989.72" y="297" width="3.4" height="3"/><rect x="995" y="298" width="1" height="12"/><rect x="993.67" y="299" width="3.4" height="10"/><rect x="999" y="288" width="1" height="25"/><rect x="997.62" y="310" width="3.4" height="3"/><rect x="999" y="311" width="1" height="1" fill="#fff"/><rect x="1003" y="305" width="1" height="13"/><rect x="1001.56" y="314" width="3.4" height="1"/><rect x="1007" y="304" width="1" height="14"/><rect x="1005.51" y="309" width="3.4" height="4"/><rect x="1011" y="295" width="1" height="17"/><rect x="1009.46" y="300" width="3.4" height="12"/><rect x="1011" y="301" width="1" height="10" fill="#fff"/><rect x="1015" y="298" width="1" height="21"/><rect x="1013.41" y="300" width="3.4" height="4"/><rect x="1018" y="298" width="1" height="9"/><rect x="1017.35" y="300" width="3.4" height="3"/><rect x="1018" y="301" width="1" height="1" fill="#fff"/><rect x="1022" y="286" width="1" height="13"/><rect x="1021.30" y="292" width="3.4" height="1"/><rect x="1026" y="281" width="1" height="16"/><rect x="1025.25" y="282" width="3.4" height="9"/><rect x="1025.85" y="283" width="2.2" height="7" fill="#8a8a8a"/><rect x="1030" y="276" width="1" height="11"/><rect x="1029.20" y="281" width="3.4" height="1"/><rect x="1034" y="283" width="1" height="43"/><rect x="1033.14" y="283" width="3.4" height="42"/><rect x="1038" y="308" width="1" height="19"/><rect x="1037.09" y="314" width="3.4" height="11"/><rect x="1037.69" y="315" width="2.2" height="9" fill="#8a8a8a"/><rect x="1042" y="306" width="1" height="16"/><rect x="1041.04" y="311" width="3.4" height="1"/><rect x="1046" y="303" width="1" height="32"/><rect x="1044.99" y="307" width="3.4" height="24"/><rect x="1050" y="326" width="1" height="12"/><rect x="1048.93" y="331" width="3.4" height="1"/><rect x="1054" y="325" width="1" height="13"/><rect x="1052.88" y="334" width="3.4" height="1"/><rect x="1058" y="328" width="1" height="12"/><rect x="1056.83" y="334" width="3.4" height="2"/><rect x="1062" y="334" width="1" height="55"/><rect x="1060.78" y="335" width="3.4" height="22"/><rect x="1066" y="348" width="1" height="20"/><rect x="1064.72" y="357" width="3.4" height="5"/><rect x="1070" y="347" width="1" height="18"/><rect x="1068.67" y="352" width="3.4" height="1"/><rect x="1074" y="341" width="1" height="15"/><rect x="1072.62" y="351" width="3.4" height="3"/><rect x="1074" y="352" width="1" height="1" fill="#fff"/><rect x="1078" y="348" width="1" height="8"/><rect x="1076.57" y="350" width="3.4" height="1"/><rect x="1082" y="341" width="1" height="14"/><rect x="1080.51" y="343" width="3.4" height="3"/><rect x="1082" y="344" width="1" height="1" fill="#fff"/><rect x="1086" y="342" width="1" height="13"/><rect x="1084.46" y="343" width="3.4" height="7"/><rect x="1090" y="348" width="1" height="9"/><rect x="1088.41" y="350" width="3.4" height="1"/><rect x="1093" y="342" width="1" height="15"/><rect x="1092.36" y="351" width="3.4" height="3"/><rect x="1093" y="352" width="1" height="1" fill="#fff"/><rect x="1097" y="348" width="1" height="17"/><rect x="1096.30" y="350" width="3.4" height="14"/><rect x="1101" y="357" width="1" height="10"/><rect x="1100.25" y="358" width="3.4" height="6"/><rect x="1100.85" y="359" width="2.2" height="4" fill="#8a8a8a"/><rect x="1105" y="342" width="1" height="16"/><rect x="1104.20" y="348" width="3.4" height="7"/><rect x="1109" y="340" width="1" height="22"/><rect x="1108.15" y="350" width="3.4" height="4"/><rect x="1108.75" y="351" width="2.2" height="2" fill="#8a8a8a"/><rect x="1113" y="350" width="1" height="9"/><rect x="1112.09" y="350" width="3.4" height="4"/><rect x="1117" y="337" width="1" height="25"/><rect x="1116.04" y="344" width="3.4" height="14"/><rect x="1116.64" y="345" width="2.2" height="12" fill="#8a8a8a"/><rect x="1121" y="343" width="1" height="11"/><rect x="1119.99" y="344" width="3.4" height="7"/><rect x="1125" y="346" width="1" height="10"/><rect x="1123.94" y="350" width="3.4" height="1"/><rect x="1129" y="312" width="1" height="37"/><rect x="1127.88" y="318" width="3.4" height="25"/><rect x="1129" y="319" width="1" height="23" fill="#fff"/><rect x="1133" y="307" width="1" height="11"/><rect x="1131.83" y="308" width="3.4" height="10"/><rect x="1133" y="309" width="1" height="8" fill="#fff"/><rect x="1137" y="307" width="1" height="5"/><rect x="1135.78" y="309" width="3.4" height="2"/><rect x="1141" y="296" width="1" height="16"/><rect x="1139.73" y="306" width="3.4" height="5"/><rect x="1145" y="309" width="1" height="7"/><rect x="1143.67" y="311" width="3.4" height="1"/><rect x="1149" y="295" width="1" height="19"/><rect x="1147.62" y="296" width="3.4" height="17"/><rect x="1149" y="297" width="1" height="15" fill="#fff"/><rect x="1153" y="302" width="1" height="14"/><rect x="1151.57" y="304" width="3.4" height="5"/><rect x="1157" y="308" width="1" height="13"/><rect x="1155.52" y="310" width="3.4" height="4"/><rect x="1161" y="306" width="1" height="13"/><rect x="1159.46" y="307" width="3.4" height="7"/><rect x="1161" y="308" width="1" height="5" fill="#fff"/><rect x="1165" y="289" width="1" height="24"/><rect x="1163.41" y="301" width="3.4" height="11"/><rect x="1164.01" y="302" width="2.2" height="9" fill="#8a8a8a"/><rect x="1168" y="287" width="1" height="17"/><rect x="1167.36" y="291" width="3.4" height="9"/><rect x="1168" y="292" width="1" height="7" fill="#fff"/><rect x="1172" y="284" width="1" height="11"/><rect x="1171.31" y="288" width="3.4" height="2"/><rect x="1176" y="263" width="1" height="22"/><rect x="1175.25" y="270" width="3.4" height="14"/><rect x="1175.85" y="271" width="2.2" height="12" fill="#8a8a8a"/><rect x="1180" y="263" width="1" height="25"/><rect x="1179.20" y="270" width="3.4" height="1"/><rect x="1184" y="268" width="1" height="15"/><rect x="1183.15" y="270" width="3.4" height="1"/><rect x="1188" y="264" width="1" height="9"/><rect x="1187.10" y="265" width="3.4" height="4"/><rect x="1188" y="266" width="1" height="2" fill="#fff"/><rect x="1192" y="265" width="1" height="13"/><rect x="1191.04" y="265" width="3.4" height="5"/><rect x="1196" y="260" width="1" height="11"/><rect x="1194.99" y="269" width="3.4" height="1"/><rect x="1200" y="248" width="1" height="12"/><rect x="1198.94" y="254" width="3.4" height="3"/><rect x="1200" y="255" width="1" height="1" fill="#fff"/><rect x="1204" y="247" width="1" height="11"/><rect x="1202.89" y="252" width="3.4" height="1"/><rect x="1208" y="240" width="1" height="19"/><rect x="1206.83" y="252" width="3.4" height="4"/><rect x="1212" y="248" width="1" height="12"/><rect x="1210.78" y="249" width="3.4" height="9"/><rect x="1212" y="250" width="1" height="7" fill="#fff"/><rect x="1216" y="246" width="1" height="10"/><rect x="1214.73" y="249" width="3.4" height="4"/><rect x="1220" y="239" width="1" height="15"/><rect x="1218.68" y="241" width="3.4" height="12"/><rect x="1220" y="242" width="1" height="10" fill="#fff"/><rect x="1224" y="219" width="1" height="34"/><rect x="1222.62" y="226" width="3.4" height="15"/><rect x="1224" y="227" width="1" height="13" fill="#fff"/><rect x="1228" y="198" width="1" height="28"/><rect x="1226.57" y="202" width="3.4" height="23"/><rect x="1228" y="203" width="1" height="21" fill="#fff"/><rect x="1232" y="190" width="1" height="15"/><rect x="1230.52" y="199" width="3.4" height="3"/><rect x="1232" y="200" width="1" height="1" fill="#fff"/><rect x="1236" y="191" width="1" height="11"/><rect x="1234.47" y="196" width="3.4" height="1"/><rect x="1240" y="195" width="1" height="18"/><rect x="1238.41" y="198" width="3.4" height="12"/><rect x="1243" y="202" width="1" height="10"/><rect x="1242.36" y="204" width="3.4" height="6"/><rect x="1243" y="205" width="1" height="4" fill="#fff"/><rect x="1247" y="183" width="1" height="25"/><rect x="1246.31" y="187" width="3.4" height="12"/><rect x="1246.91" y="188" width="2.2" height="10" fill="#8a8a8a"/><rect x="1251" y="174" width="1" height="25"/><rect x="1250.26" y="182" width="3.4" height="4"/><rect x="1250.86" y="183" width="2.2" height="2" fill="#8a8a8a"/><rect x="1255" y="179" width="1" height="15"/><rect x="1254.20" y="181" width="3.4" height="13"/><rect x="1259" y="188" width="1" height="16"/><rect x="1258.15" y="192" width="3.4" height="11"/><rect x="1263" y="198" width="1" height="27"/><rect x="1262.10" y="203" width="3.4" height="21"/><rect x="1267" y="222" width="1" height="17"/><rect x="1266.05" y="224" width="3.4" height="12"/><rect x="1271" y="201" width="1" height="39"/><rect x="1269.99" y="208" width="3.4" height="29"/><rect x="1270.59" y="209" width="2.2" height="27" fill="#8a8a8a"/><rect x="1275" y="204" width="1" height="11"/><rect x="1273.94" y="208" width="3.4" height="6"/><rect x="1279" y="202" width="1" height="13"/><rect x="1277.89" y="204" width="3.4" height="10"/><rect x="1279" y="205" width="1" height="8" fill="#fff"/><rect x="1283" y="184" width="1" height="9"/><rect x="1281.84" y="190" width="3.4" height="1"/><rect x="1287" y="167" width="1" height="26"/><rect x="1285.78" y="176" width="3.4" height="14"/><rect x="1287" y="177" width="1" height="12" fill="#fff"/><rect x="1291" y="174" width="1" height="23"/><rect x="1289.73" y="176" width="3.4" height="15"/><rect x="1295" y="180" width="1" height="16"/><rect x="1293.68" y="187" width="3.4" height="1"/><rect x="1299" y="184" width="1" height="15"/><rect x="1297.63" y="187" width="3.4" height="1"/><rect x="1303" y="181" width="1" height="7"/><rect x="1301.57" y="182" width="3.4" height="5"/><rect x="1303" y="183" width="1" height="3" fill="#fff"/><rect x="1307" y="177" width="1" height="16"/><rect x="1305.52" y="179" width="3.4" height="13"/><rect x="1311" y="188" width="1" height="9"/><rect x="1309.47" y="191" width="3.4" height="1"/><rect x="1315" y="190" width="1" height="25"/><rect x="1313.42" y="191" width="3.4" height="9"/><rect x="1318" y="192" width="1" height="8"/><rect x="1317.36" y="192" width="3.4" height="4"/><rect x="1318" y="193" width="1" height="2" fill="#fff"/><rect x="1322" y="188" width="1" height="19"/><rect x="1321.31" y="192" width="3.4" height="12"/><rect x="1326" y="201" width="1" height="12"/><rect x="1325.26" y="204" width="3.4" height="1"/><rect x="1330" y="187" width="1" height="17"/><rect x="1329.21" y="198" width="3.4" height="4"/><rect x="1334" y="198" width="1" height="11"/><rect x="1333.15" y="200" width="3.4" height="1"/><rect x="1338" y="192" width="1" height="9"/><rect x="1337.10" y="194" width="3.4" height="6"/><rect x="1338" y="195" width="1" height="4" fill="#fff"/><rect x="1342" y="176" width="1" height="18"/><rect x="1341.05" y="178" width="3.4" height="12"/><rect x="1341.65" y="179" width="2.2" height="10" fill="#8a8a8a"/><rect x="1346" y="175" width="1" height="6"/><rect x="1345.00" y="176" width="3.4" height="1"/><rect x="1350" y="176" width="1" height="6"/><rect x="1348.94" y="177" width="3.4" height="1"/><rect x="1354" y="176" width="1" height="12"/><rect x="1352.89" y="176" width="3.4" height="8"/><rect x="1358" y="183" width="1" height="14"/><rect x="1356.84" y="184" width="3.4" height="5"/><rect x="1362" y="182" width="1" height="12"/><rect x="1360.79" y="185" width="3.4" height="3"/><rect x="1362" y="186" width="1" height="1" fill="#fff"/><rect x="1366" y="185" width="1" height="19"/><rect x="1364.73" y="189" width="3.4" height="2"/><rect x="1370" y="186" width="1" height="12"/><rect x="1368.68" y="190" width="3.4" height="1"/><rect x="1374" y="182" width="1" height="10"/><rect x="1372.63" y="188" width="3.4" height="3"/><rect x="1374" y="189" width="1" height="1" fill="#fff"/><rect x="1378" y="177" width="1" height="8"/><rect x="1376.58" y="182" width="3.4" height="1"/><rect x="1382" y="179" width="1" height="13"/><rect x="1380.52" y="182" width="3.4" height="1"/><rect x="1386" y="169" width="1" height="14"/><rect x="1384.47" y="171" width="3.4" height="11"/><rect x="1386" y="172" width="1" height="9" fill="#fff"/><rect x="1390" y="167" width="1" height="14"/><rect x="1388.42" y="172" width="3.4" height="1"/><rect x="1393" y="168" width="1" height="7"/><rect x="1392.37" y="171" width="3.4" height="1"/><rect x="1397" y="169" width="1" height="8"/><rect x="1396.31" y="172" width="3.4" height="1"/><rect x="1401" y="147" width="1" height="24"/><rect x="1400.26" y="159" width="3.4" height="9"/><rect x="1400.86" y="160" width="2.2" height="7" fill="#8a8a8a"/><rect x="1405" y="156" width="1" height="12"/><rect x="1404.21" y="158" width="3.4" height="5"/><rect x="1409" y="158" width="1" height="14"/><rect x="1408.16" y="160" width="3.4" height="2"/><rect x="1413" y="146" width="1" height="17"/><rect x="1412.10" y="152" width="3.4" height="10"/><rect x="1412.70" y="153" width="2.2" height="8" fill="#8a8a8a"/><rect x="1417" y="151" width="1" height="19"/><rect x="1416.05" y="152" width="3.4" height="13"/><rect x="1421" y="159" width="1" height="17"/><rect x="1420.00" y="166" width="3.4" height="6"/></g>
<rect x="1421" y="172" width="55" height="1" fill="#000"/>
<rect x="1476" y="14" width="1" height="746" fill="#000"/>
<rect x="1476" y="34" width="7.5" height="1" fill="#000"/>
<rect x="1476" y="54" width="4" height="1" fill="#000"/>
<rect x="1476" y="73" width="7.5" height="1" fill="#000"/>
<rect x="1476" y="93" width="4" height="1" fill="#000"/>
<rect x="1476" y="113" width="7.5" height="1" fill="#000"/>
<rect x="1476" y="132" width="4" height="1" fill="#000"/>
<rect x="1476" y="152" width="7.5" height="1" fill="#000"/>
<rect x="1476" y="171" width="4" height="1" fill="#000"/>
<rect x="1476" y="191" width="7.5" height="1" fill="#000"/>
<rect x="1476" y="210" width="4" height="1" fill="#000"/>
<rect x="1476" y="230" width="7.5" height="1" fill="#000"/>
<rect x="1476" y="250" width="4" height="1" fill="#000"/>
<rect x="1476" y="269" width="7.5" height="1" fill="#000"/>
<rect x="1476" y="289" width="4" height="1" fill="#000"/>
<rect x="1476" y="308" width="7.5" height="1" fill="#000"/>
<rect x="1476" y="328" width="4" height="1" fill="#000"/>
<rect x="1476" y="348" width="7.5" height="1" fill="#000"/>
<rect x="1476" y="367" width="4" height="1" fill="#000"/>
<rect x="1476" y="387" width="7.5" height="1" fill="#000"/>
<rect x="1476" y="406" width="4" height="1" fill="#000"/>
<rect x="1476" y="426" width="7.5" height="1" fill="#000"/>
<rect x="1476" y="446" width="4" height="1" fill="#000"/>
<rect x="1476" y="465" width="7.5" height="1" fill="#000"/>
<rect x="1476" y="485" width="4" height="1" fill="#000"/>
<rect x="1476" y="504" width="7.5" height="1" fill="#000"/>
<rect x="1476" y="524" width="4" height="1" fill="#000"/>
<rect x="1476" y="543" width="7.5" height="1" fill="#000"/>
<rect x="1476" y="563" width="4" height="1" fill="#000"/>
<rect x="0" y="651" width="1476" height="1.2" fill="#383838"/>
<rect x="0" y="716.1" width="1476" height="1.7" fill="#585858"/>
<polyline points="0.0,646.2 4.0,642.5 8.0,650.3 12.0,654.2 16.0,659.5 19.7,655.3 23.8,661.3 27.7,660.0 31.7,658.0 35.7,650.0 39.5,647.0 43.3,640.0 47.5,641.3 51.3,640.3 55.3,637.0 59.3,655.3 63.3,652.8 67.2,676.2 71.3,677.2 75.2,682.0 79.2,683.7 82.8,698.0 86.7,698.0 90.8,691.7 94.7,680.0 98.7,671.7 102.8,677.0 106.7,676.3 110.7,677.5 114.7,667.5 118.5,669.5 122.5,666.7 126.3,664.7 130.3,670.3 134.3,680.8 138.3,687.0 142.2,688.3 146.2,683.3 150.0,678.7 153.8,670.0 157.8,676.7 161.7,683.0 165.7,679.2 169.7,680.5 173.7,688.3 177.7,686.7 181.5,695.0 185.3,685.8 189.3,687.8 193.3,691.2 197.3,681.7 201.3,684.5 205.3,679.7 209.2,672.5 213.2,675.8 217.2,674.5 221.2,683.3 224.7,684.2 228.7,677.2 232.7,660.0 236.7,662.5 240.8,668.0 244.7,669.2 248.7,669.7 252.7,669.5 256.0,683.3 260.7,679.7 264.7,679.7 268.5,669.2 272.3,663.8 276.3,670.8 280.3,679.2 284.3,681.2 288.2,683.3 292.2,677.2 296.0,680.0 300.0,685.0 304.0,684.5 307.7,686.7 311.8,692.2 315.7,680.0 319.7,686.7 323.7,688.3 327.7,694.2 331.5,699.7 335.5,707.0 339.3,704.2 343.2,702.5 347.0,704.2 351.0,707.5 355.2,714.7 359.3,709.2 363.0,695.5 367.2,700.0 371.0,703.3 374.8,691.3 378.8,673.7 382.7,678.0 386.8,665.5 390.7,666.2 394.3,660.8 398.5,664.5 402.5,662.5 406.5,652.8 410.2,652.5 414.0,656.7 418.2,664.2 422.2,660.0 426.0,657.5 430.2,655.3 433.8,670.8 437.7,676.7 441.8,683.0 445.7,672.8 449.7,675.5 453.8,678.7 457.7,677.2 461.8,685.3 465.5,693.7 469.3,677.8 473.5,685.0 477.3,685.3 481.3,675.0 485.3,713.0 489.0,714.2 493.0,731.2 497.0,732.0 500.7,732.5 504.7,724.2 508.7,713.3 513.3,713.0 517.0,704.7 520.8,705.5 525.0,707.8 529.0,717.5 532.8,713.0 536.7,709.2 540.7,709.7 544.5,696.2 548.7,696.2 552.3,695.3 556.2,695.0 560.3,681.7 564.2,680.0 568.3,686.2 572.3,699.5 576.2,700.0 580.0,700.5 584.0,691.3 587.8,663.8 592.0,660.3 595.8,661.3 599.8,664.5 603.7,660.0 607.7,655.5 611.7,657.5 615.7,656.2 619.5,655.3 623.3,656.2 627.3,655.5 631.3,681.7 635.3,674.2 639.2,665.3 643.2,664.5 647.0,652.5 651.2,656.7 655.0,661.7 659.0,671.7 662.8,675.5 667.0,677.8 670.7,685.5 674.8,682.0 678.7,683.3 682.8,687.2 686.7,689.7 690.7,689.2 694.5,695.0 698.3,703.8 702.3,707.2 706.2,701.2 710.0,703.7 714.2,708.3 718.2,703.0 722.0,704.7 726.2,699.5 730.0,699.2 733.7,676.3 737.8,672.8 741.7,683.8 745.7,691.7 749.5,695.3 753.3,706.7 757.3,710.8 761.3,715.5 765.0,711.3 769.3,715.0 773.3,722.0 777.2,723.3 781.3,720.0 785.2,715.0 789.3,707.0 793.3,715.0 797.2,715.8 801.3,716.7 805.0,719.5 809.0,722.0 813.0,716.7 816.8,719.7 820.8,716.3 824.7,718.7 828.5,721.3 832.7,725.0 836.7,728.3 840.7,731.7 844.7,738.0 848.5,739.2 852.5,723.3 856.3,726.2 860.2,710.3 864.2,713.0 868.2,714.5 872.2,724.5 876.0,709.5 880.0,710.5 883.8,710.5 887.7,690.5 891.8,682.8 895.8,682.8 899.7,682.0 903.7,678.3 907.7,669.7 911.5,674.7 915.3,677.5 919.3,673.3 923.3,672.2 927.3,675.3 931.3,645.8 935.2,657.0 939.2,660.0 943.0,664.2 947.2,671.7 951.0,676.3 955.0,677.5 958.8,677.5 962.7,675.5 966.7,675.3 970.5,674.2 974.7,670.3 978.3,666.2 982.5,659.7 986.3,652.2 990.2,654.7 994.2,662.0 998.0,662.2 1002.2,662.2 1006.0,665.3 1010.0,658.8 1014.0,662.8 1018.0,660.8 1021.8,656.7 1026.5,652.2 1030.3,652.2 1034.0,686.7 1038.2,678.3 1042.0,678.8 1046.0,689.7 1049.8,690.5 1053.7,692.5 1057.7,691.7 1061.8,703.8 1065.7,706.7 1069.5,699.2 1073.5,697.0 1077.3,697.0 1081.5,691.2 1085.3,695.3 1089.3,695.3 1093.2,695.3 1097.0,705.0 1101.0,698.3 1104.8,696.3 1109.0,691.2 1112.8,695.3 1116.8,685.0 1120.7,690.5 1124.5,689.2 1128.5,666.7 1132.5,661.7 1136.5,665.0 1140.3,664.5 1144.3,667.0 1148.2,656.7 1152.3,669.2 1156.5,673.3 1160.3,668.8 1164.3,665.0 1168.2,660.0 1172.2,658.3 1176.0,650.3 1180.2,651.3 1184.0,651.7 1187.8,649.2 1191.8,654.5 1195.7,653.3 1199.5,646.3 1203.5,645.5 1207.3,650.5 1211.3,647.0 1215.3,653.3 1219.2,647.2 1223.2,641.2 1227.0,632.8 1231.2,632.5 1235.2,632.2 1239.0,647.5 1242.8,645.3 1246.8,639.7 1250.7,637.5 1254.8,650.8 1259.0,660.0 1262.7,674.7 1266.5,683.3 1270.3,668.7 1274.3,672.8 1278.2,668.7 1282.5,662.0 1286.7,656.7 1290.5,666.7 1294.5,665.0 1298.3,665.0 1302.3,663.0 1306.3,670.8 1310.3,669.7 1314.2,676.7 1318.2,672.5 1322.0,680.0 1325.8,681.7 1330.0,680.0 1333.8,678.3 1337.8,673.3 1341.7,664.2 1345.5,664.2 1349.5,663.3 1353.3,669.7 1357.3,675.0 1361.2,672.8 1365.5,678.3 1369.5,678.0 1373.3,675.0 1377.2,670.5 1381.2,671.3 1385.0,662.0 1389.2,663.3 1393.0,663.7 1397.0,662.8 1400.8,652.0 1405.0,660.0 1408.8,656.7 1412.8,651.3 1416.7,670.0 1420.8,677.5" fill="none" stroke="#ff0000" stroke-width="1"/>
<rect x="1476" y="733" width="7" height="1" fill="#000"/>
<rect x="1476" y="717" width="4" height="1" fill="#000"/>
<rect x="1476" y="701" width="7" height="1" fill="#000"/>
<rect x="1476" y="685" width="4" height="1" fill="#000"/>
<rect x="1476" y="668" width="7" height="1" fill="#000"/>
<rect x="1476" y="652" width="4" height="1" fill="#000"/>
<rect x="1476" y="636" width="7" height="1" fill="#000"/>
<rect x="0" y="760" width="1536" height="2" fill="#cfcfcf"/>
<rect x="0" y="762" width="1476" height="1" fill="#000"/>
<rect x="0.0" y="762" width="1" height="17" fill="#000"/>
<rect x="79.0" y="762" width="1" height="17" fill="#000"/>
<rect x="157.9" y="762" width="1" height="17" fill="#000"/>
<rect x="236.9" y="762" width="1" height="17" fill="#000"/>
<rect x="315.8" y="762" width="1" height="17" fill="#000"/>
<rect x="394.8" y="762" width="1" height="17" fill="#000"/>
<rect x="473.7" y="762" width="1" height="17" fill="#000"/>
<rect x="552.6" y="762" width="1" height="17" fill="#000"/>
<rect x="631.6" y="762" width="1" height="17" fill="#000"/>
<rect x="710.6" y="762" width="1" height="17" fill="#000"/>
<rect x="789.5" y="762" width="1" height="17" fill="#000"/>
<rect x="868.5" y="762" width="1" height="17" fill="#000"/>
<rect x="947.4" y="762" width="1" height="17" fill="#000"/>
<rect x="1026.4" y="762" width="1" height="17" fill="#000"/>
<rect x="1105.3" y="762" width="1" height="17" fill="#000"/>
<rect x="1184.2" y="762" width="1" height="17" fill="#000"/>
<rect x="1263.2" y="762" width="1" height="17" fill="#000"/>
<rect x="1342.2" y="762" width="1" height="17" fill="#000"/>
<rect x="1421.1" y="762" width="1" height="17" fill="#000"/>
</svg>
<div class="abs pl" style="top:26.6px">18500,0</div>
<div class="abs pl" style="top:65.8px">18000,0</div>
<div class="abs pl" style="top:105.0px">17500,0</div>
<div class="abs pl" style="top:144.1px">17000,0</div>
<div class="abs pl" style="top:183.3px">16500,0</div>
<div class="abs pl" style="top:222.5px">16000,0</div>
<div class="abs pl" style="top:261.7px">15500,0</div>
<div class="abs pl" style="top:300.8px">15000,0</div>
<div class="abs pl" style="top:340.0px">14500,0</div>
<div class="abs pl" style="top:379.2px">14000,0</div>
<div class="abs pl" style="top:418.4px">13500,0</div>
<div class="abs pl" style="top:457.5px">13000,0</div>
<div class="abs pl" style="top:496.7px">12500,0</div>
<div class="abs pl" style="top:535.9px">12000,0</div>
<div class="abs pl" style="top:628.7px;left:1486px">80,00</div>
<div class="abs pl" style="top:661.1px;left:1486px">60,00</div>
<div class="abs pl" style="top:693.4px;left:1486px">40,00</div>
<div class="abs pl" style="top:725.8px;left:1486px">20,00</div>
<div class="abs" style="left:1085px;top:454px;width:186px;height:127px;background:#fff"></div>
<div class="abs" style="left:1272px;top:384px;width:198px;height:197px;background:#fff"></div>
<div class="abs lg" style="left:1087px;top:454px;color:#000">23.12.2025</div>
<div class="abs lg" style="left:1165px;top:454px;color:#000">16:00:00</div>
<div class="abs lg" style="left:1087px;top:468px;color:#000">XBANK</div>
<div class="abs lg" style="left:1087px;top:482px;color:#000">Açılış</div>
<div class="abs lg" style="left:1165px;top:482px;color:#000">16816,39</div>
<div class="abs lg" style="left:1087px;top:496px;color:#000">Yüksek</div>
<div class="abs lg" style="left:1165px;top:496px;color:#000">16900,19</div>
<div class="abs lg" style="left:1087px;top:510px;color:#000">Düşük</div>
<div class="abs lg" style="left:1165px;top:510px;color:#000">16686,18</div>
<div class="abs lg" style="left:1087px;top:524px;color:#000">Kapanış</div>
<div class="abs lg" style="left:1165px;top:524px;color:#000">16731,87</div>
<div class="abs lg" style="left:1087px;top:538px;color:#000">O.Kap.Fark</div>
<div class="abs lg" style="left:1165px;top:538px;color:#000">-82,64</div>
<div class="abs lg" style="left:1087px;top:552px;color:#000">Miktar</div>
<div class="abs lg" style="left:1165px;top:552px;color:#000">345800354,00</div>
<div class="abs lg" style="left:1087px;top:566px;color:#000">Değer</div>
<div class="abs lg" style="left:1165px;top:566px;color:#000">16737,53</div>
<div class="abs lg" style="left:1274px;top:384px;color:#0000ff;letter-spacing:0.1px">MOV( 122 )</div>
<div class="abs lg" style="left:1352px;top:384px;color:#0000ff;letter-spacing:0.05px">: 15.574,22</div>
<svg class="abs" style="left:1443px;top:386px" width="10" height="11" viewBox="0 0 10 11"><circle cx="4.4" cy="6" r="3.6" fill="#e8c020"/><path d="M1.7 5.2 L4.2 8.9 L8.0 1.4" fill="none" stroke="#000" stroke-width="2.3" stroke-linejoin="miter"/></svg>
<div class="abs lg" style="left:1274px;top:398px;color:#ff00ff;letter-spacing:0.1px">MOV( 55 )</div>
<div class="abs lg" style="left:1352px;top:398px;color:#ff00ff;letter-spacing:0.05px">: 16.357,48</div>
<svg class="abs" style="left:1443px;top:400px" width="10" height="11" viewBox="0 0 10 11"><circle cx="4.4" cy="6" r="3.6" fill="#e8c020"/><path d="M1.7 5.2 L4.2 8.9 L8.0 1.4" fill="none" stroke="#000" stroke-width="2.3" stroke-linejoin="miter"/></svg>
<div class="abs lg" style="left:1274px;top:412px;color:#ff8000;letter-spacing:0.1px">HLine</div>
<div class="abs lg" style="left:1352px;top:412px;color:#ff8000;letter-spacing:0.05px">: 13310,00</div>
<svg class="abs" style="left:1443px;top:414px" width="10" height="11" viewBox="0 0 10 11"><circle cx="4.4" cy="6" r="3.6" fill="#e8c020"/><path d="M1.7 5.2 L4.2 8.9 L8.0 1.4" fill="none" stroke="#000" stroke-width="2.3" stroke-linejoin="miter"/></svg>
<div class="abs lg" style="left:1274px;top:426px;color:#ff8000;letter-spacing:0.1px">HLine</div>
<div class="abs lg" style="left:1352px;top:426px;color:#ff8000;letter-spacing:0.05px">: 12300,00</div>
<svg class="abs" style="left:1443px;top:428px" width="10" height="11" viewBox="0 0 10 11"><circle cx="4.4" cy="6" r="3.6" fill="#e8c020"/><path d="M1.7 5.2 L4.2 8.9 L8.0 1.4" fill="none" stroke="#000" stroke-width="2.3" stroke-linejoin="miter"/></svg>
<div class="abs lg" style="left:1274px;top:440px;color:#ff8000;letter-spacing:0.1px">HLine</div>
<div class="abs lg" style="left:1352px;top:440px;color:#ff8000;letter-spacing:0.05px">: 15250,00</div>
<svg class="abs" style="left:1443px;top:442px" width="10" height="11" viewBox="0 0 10 11"><circle cx="4.4" cy="6" r="3.6" fill="#e8c020"/><path d="M1.7 5.2 L4.2 8.9 L8.0 1.4" fill="none" stroke="#000" stroke-width="2.3" stroke-linejoin="miter"/></svg>
<div class="abs lg" style="left:1274px;top:454px;color:#ff8000;letter-spacing:0.1px">HLine</div>
<div class="abs lg" style="left:1352px;top:454px;color:#ff8000;letter-spacing:0.05px">: 15850,00</div>
<svg class="abs" style="left:1443px;top:456px" width="10" height="11" viewBox="0 0 10 11"><circle cx="4.4" cy="6" r="3.6" fill="#e8c020"/><path d="M1.7 5.2 L4.2 8.9 L8.0 1.4" fill="none" stroke="#000" stroke-width="2.3" stroke-linejoin="miter"/></svg>
<div class="abs lg" style="left:1274px;top:468px;color:#ff8000;letter-spacing:0.1px">HLine</div>
<div class="abs lg" style="left:1352px;top:468px;color:#ff8000;letter-spacing:0.05px">: 14450,00</div>
<svg class="abs" style="left:1443px;top:470px" width="10" height="11" viewBox="0 0 10 11"><circle cx="4.4" cy="6" r="3.6" fill="#e8c020"/><path d="M1.7 5.2 L4.2 8.9 L8.0 1.4" fill="none" stroke="#000" stroke-width="2.3" stroke-linejoin="miter"/></svg>
<div class="abs lg" style="left:1274px;top:482px;color:#ff8000;letter-spacing:0.1px">HLine</div>
<div class="abs lg" style="left:1352px;top:482px;color:#ff8000;letter-spacing:0.05px">: 11270,90</div>
<svg class="abs" style="left:1443px;top:484px" width="10" height="11" viewBox="0 0 10 11"><circle cx="4.4" cy="6" r="3.6" fill="#e8c020"/><path d="M1.7 5.2 L4.2 8.9 L8.0 1.4" fill="none" stroke="#000" stroke-width="2.3" stroke-linejoin="miter"/></svg>
<div class="abs lg" style="left:1274px;top:496px;color:#ff8000;letter-spacing:0.1px">HLine</div>
<div class="abs lg" style="left:1352px;top:496px;color:#ff8000;letter-spacing:0.05px">: 11765,10</div>
<svg class="abs" style="left:1443px;top:498px" width="10" height="11" viewBox="0 0 10 11"><circle cx="4.4" cy="6" r="3.6" fill="#e8c020"/><path d="M1.7 5.2 L4.2 8.9 L8.0 1.4" fill="none" stroke="#000" stroke-width="2.3" stroke-linejoin="miter"/></svg>
<div class="abs lg" style="left:1274px;top:510px;color:#ff8000;letter-spacing:0.1px">HLine</div>
<div class="abs lg" style="left:1352px;top:510px;color:#ff8000;letter-spacing:0.05px">: 12820,00</div>
<svg class="abs" style="left:1443px;top:512px" width="10" height="11" viewBox="0 0 10 11"><circle cx="4.4" cy="6" r="3.6" fill="#e8c020"/><path d="M1.7 5.2 L4.2 8.9 L8.0 1.4" fill="none" stroke="#000" stroke-width="2.3" stroke-linejoin="miter"/></svg>
<div class="abs lg" style="left:1274px;top:524px;color:#ff8000;letter-spacing:0.1px">HLine</div>
<div class="abs lg" style="left:1352px;top:524px;color:#ff8000;letter-spacing:0.05px">: 13850,00</div>
<svg class="abs" style="left:1443px;top:526px" width="10" height="11" viewBox="0 0 10 11"><circle cx="4.4" cy="6" r="3.6" fill="#e8c020"/><path d="M1.7 5.2 L4.2 8.9 L8.0 1.4" fill="none" stroke="#000" stroke-width="2.3" stroke-linejoin="miter"/></svg>
<div class="abs lg" style="left:1274px;top:538px;color:#ff8000;letter-spacing:0.1px">HLine</div>
<div class="abs lg" style="left:1352px;top:538px;color:#ff8000;letter-spacing:0.05px">: 17130,00</div>
<svg class="abs" style="left:1443px;top:540px" width="10" height="11" viewBox="0 0 10 11"><circle cx="4.4" cy="6" r="3.6" fill="#e8c020"/><path d="M1.7 5.2 L4.2 8.9 L8.0 1.4" fill="none" stroke="#000" stroke-width="2.3" stroke-linejoin="miter"/></svg>
<div class="abs lg" style="left:1274px;top:552px;color:#ff8000;letter-spacing:0.1px">HLine</div>
<div class="abs lg" style="left:1352px;top:552px;color:#ff8000;letter-spacing:0.05px">: 16450,00</div>
<svg class="abs" style="left:1443px;top:554px" width="10" height="11" viewBox="0 0 10 11"><circle cx="4.4" cy="6" r="3.6" fill="#e8c020"/><path d="M1.7 5.2 L4.2 8.9 L8.0 1.4" fill="none" stroke="#000" stroke-width="2.3" stroke-linejoin="miter"/></svg>
<div class="abs lg" style="left:1274px;top:566px;color:#e00000;letter-spacing:0.1px">FibImp</div>
<div class="abs lg" style="left:1352px;top:566px;color:#e00000;letter-spacing:0.05px">: --</div>
<svg class="abs" style="left:1443px;top:568px" width="10" height="11" viewBox="0 0 10 11"><circle cx="4.4" cy="6" r="3.6" fill="#e8c020"/><path d="M1.7 5.2 L4.2 8.9 L8.0 1.4" fill="none" stroke="#000" stroke-width="2.3" stroke-linejoin="miter"/></svg>
<div class="abs lg" style="left:2px;top:610px;color:#ff0000;letter-spacing:0.2px">RSI( 14 )</div>
<div class="abs lg" style="left:72px;top:610px;color:#ff0000;letter-spacing:-0.1px">: 54,21</div>
<svg class="abs" style="left:131px;top:612px" width="10" height="11" viewBox="0 0 10 11"><circle cx="4.4" cy="6" r="3.6" fill="#e8c020"/><path d="M1.7 5.2 L4.2 8.9 L8.0 1.4" fill="none" stroke="#000" stroke-width="2.3" stroke-linejoin="miter"/></svg>
<div class="abs ol" style="top:131px"><span>17130,</span></div>
<div class="abs ol" style="top:184px"><span>16450,</span></div>
<div class="abs ol" style="top:231px"><span>15850,</span></div>
<div class="abs ol" style="top:278px"><span>15250,</span></div>
<div class="abs ol" style="top:341px"><span>14450,</span></div>
<div class="abs ol" style="top:388px"><span>13850,</span></div>
<div class="abs ol" style="top:430px"><span>13310,</span></div>
<div class="abs ol" style="top:469px"><span>12820,</span></div>
<div class="abs ol" style="top:509px"><span>12300,</span></div>
<div class="abs ol" style="top:551px"><span>11765,</span></div>
<div class="abs ol" style="top:590px"><span>11270,</span></div>
<div class="abs" style="left:0;top:609px;width:1536px;height:2px;background:#cdcdcd"></div>
<div class="abs" style="left:1476px;top:162px;width:60px;height:20px;background:#000;color:#fff;font:bold 14px 'Liberation Sans',sans-serif;line-height:18px;text-indent:10.5px">16731,</div>
<div class="abs fib" style="top:32px">0,79(18423,05</div>
<div class="abs fib" style="top:70px">0,62(17943,64</div>
<div class="abs tm" style="left:-0.7px">04-12:00</div>
<div class="abs tm" style="left:78.2px">16-08:00</div>
<div class="abs tm" style="left:157.2px">24-16:00</div>
<div class="abs tm" style="left:236.2px">04-12:00</div>
<div class="abs tm" style="left:315.1px">13-08:00</div>
<div class="abs tm" style="left:394.1px">21-16:00</div>
<div class="abs tm" style="left:473.0px">01-12:00</div>
<div class="abs tm" style="left:551.9px">10-08:00</div>
<div class="abs tm" style="left:630.9px">18-16:00</div>
<div class="abs tm" style="left:709.9px">29-12:00</div>
<div class="abs tm" style="left:788.8px">08-08:00</div>
<div class="abs tm" style="left:867.8px">16-16:00</div>
<div class="abs tm" style="left:946.7px">27-12:00</div>
<div class="abs tm" style="left:1025.7px">06-12:00</div>
<div class="abs tm" style="left:1104.6px">17-08:00</div>
<div class="abs tm" style="left:1183.5px">25-16:00</div>
<div class="abs tm" style="left:1262.5px">04-12:00</div>
<div class="abs tm" style="left:1341.5px">15-08:00</div>
<div class="abs tm" style="left:1420.4px">23-16:00</div>
<div class="abs yb" style="left:1461px;top:15.2px;width:14.5px;height:9.3px;background:#efd878;border-color:#d8b830">[]</div>
<div class="abs yb" style="left:1446.2px;top:612.2px;width:14px;height:9.6px">[]</div>
<div class="abs yb" style="left:1461.5px;top:612.2px;width:14px;height:9.6px">x</div>
<div class="abs" id="tb"></div>
<div class="abs" style="left:0;top:0;width:14px;height:14px;background:linear-gradient(#8a78b4 0%,#6c5596 45%,#5a3f80 100%);box-sizing:border-box;border-left:1px solid #7a3558;border-top:1px solid #7a3558;border-bottom:1px solid #5a3060"></div>
<svg class="abs" style="left:0;top:0" width="14" height="14" viewBox="0 0 14 14"><path d="M4.4 4.9l4.8 4.6M9.2 4.9l-4.8 4.6" stroke="#fff" stroke-width="1.7" fill="none"/></svg>
<div class="abs ttl">XBANK BIST BANKA - 4 Saatlik (.4h)</div>
<div class="abs" id="tb2"></div>
<div class="abs tt" style="left:1177.5px">4 Saatlik</div>
<div class="abs tt" style="left:1246px">MUM</div>
<div class="abs tt" style="left:1310.5px">TL</div>
<div class="abs tt" style="left:1368.5px">LIN</div>
<div class="abs tt" style="left:1428px">IND</div>
<div class="abs tt" style="left:1071px;top:0.5px;font-size:10px;color:#7c7c7c;font-weight:bold;-webkit-text-stroke:0;transform:scale(0.37,0.5);transform-origin:0 50%">Forinvest</div>
<svg class="abs" style="left:1026px;top:0" width="468" height="14" viewBox="0 0 468 14">
<defs>
<linearGradient id="gg" x1="0" x2="1"><stop offset="0" stop-color="#e0f4e0"/><stop offset="1" stop-color="#84c484"/></linearGradient>
<linearGradient id="gr" x1="0" x2="1"><stop offset="0" stop-color="#ffd8d8"/><stop offset="1" stop-color="#f05c5c"/></linearGradient>
<linearGradient id="gb" x1="0" y1="0" x2="0" y2="1"><stop offset="0" stop-color="#78a8f8"/><stop offset="1" stop-color="#3c74dc"/></linearGradient>
</defs>
<rect x="1.6" y="1.6" width="11.2" height="11.4" fill="url(#gg)"/>
<g fill="#e0b020" stroke="#3a2c" stroke-width="0.9"><ellipse cx="7" cy="3.6" rx="3" ry="1.6"/><ellipse cx="8" cy="6.8" rx="3" ry="1.6"/><ellipse cx="7.2" cy="10.4" rx="3" ry="1.7"/></g>
<path d="M3 2.5l3.5 0.8" stroke="#111" stroke-width="1.2"/>
<rect x="15.8" y="1.6" width="10.8" height="11.4" fill="url(#gr)"/>
<g fill="#e0b020" stroke="#3a2c" stroke-width="0.9"><ellipse cx="21.5" cy="4" rx="3" ry="1.6"/><ellipse cx="20.8" cy="7.2" rx="3" ry="1.6"/><ellipse cx="21" cy="10.6" rx="3" ry="1.7"/></g>
<path d="M26.6 13l-2.8 0 2.800-5z" fill="#e01818"/>
<path d="M33.6 11V3.800H40.9" fill="none" stroke="#26262a" stroke-width="1.9"/>
<path d="M40 6.800V8.500Q40 10.5 38 10.500H36.5" fill="none" stroke="#26262a" stroke-width="1.9"/>
<rect x="72.3" y="1.5" width="9.5" height="10.8" fill="#c4d8f4" stroke="#7c9cd0" stroke-width="0.8"/>
<g stroke-width="1.4"><path d="M74 3.800h2" stroke="#3050c0"/><path d="M77.5 3.800h3" stroke="#4060c8"/><path d="M74 6.800h2" stroke="#e03030"/><path d="M77.5 6.800h3" stroke="#3050c0"/><path d="M74 9.800h2" stroke="#e0b020"/><path d="M77.5 9.800h3" stroke="#4060c8"/></g>
<rect x="87.3" y="1.2" width="9.9" height="5.8" fill="url(#gb)"/><path d="M88 5.200l2.200-1.4 1.6 1 2-2 1.6 1.4 1.400-1.4" stroke="#e82020" stroke-width="1" fill="none"/>
<rect x="85.3" y="7.3" width="10.3" height="5.5" fill="url(#gb)"/><rect x="86.3" y="8.6" width="8.3" height="3" fill="#f4f8ff"/><path d="M86.8 10.600l2-1.2 1.8 1 2-1.2 1.8 1" stroke="#20a020" stroke-width="0.9" fill="none"/>
<path d="M101 11 L109.5 2.8" stroke="#28a028" stroke-width="3.2"/><path d="M100.5 9.5 L108 2.3" stroke="#60d060" stroke-width="0.8"/>
<path d="M109 3.300l1.600-1.6" stroke="#f05858" stroke-width="3.2"/>
<path d="M98.8 13.200l1-3 2.2 2.100z" fill="#e87830"/><path d="M98.8 13.200l0.400-1.3 0.9 0.900z" fill="#111"/>
<path d="M118.5 1l5.5 5.800-5.5 5.800-5.500-5.800z" fill="#4a84ec"/><path d="M118.5 4.300l2.5 2.500-2.5 2.500-2.500-2.500z" fill="#fff"/>
<path d="M118.5 1l2 2.600h-4zM118.5 12.600l2-2.600h-4zM113 6.800l2.600-2v4zM124 6.800l-2.600-2v4z" fill="#2c64d4"/>
<path d="M127 7.300h3l1.300-1 1.200-3.3 1.6 8.3 1.500-6 1 2h2.2" fill="none" stroke="#88a4d4" stroke-width="1"/>
<path d="M445 10.500l5.500-5.5" stroke="#3c7cf0" stroke-width="2.8"/><path d="M447 3.200h5.500v5.500z" fill="#3c7cf0"/>
<path d="M465.8 2.800l-8.6 9.4" stroke="#666" stroke-width="2.6"/><path d="M465.8 2.800l-8.6 9.4" stroke="#eee" stroke-width="1.5"/>
<path d="M456.5 2.200l5 5.2" stroke="#777" stroke-width="1.8"/><path d="M456.5 2.200l5 5.2" stroke="#ddd" stroke-width="0.9"/>
<path d="M461.3 7.200l5 5.2" stroke="#e83828" stroke-width="2.8" stroke-linecap="round"/>
</svg>
<div class="abs" style="left:1494px;top:0;width:28px;height:14px;background:linear-gradient(#7c7cd2 0%,#5454b8 30%,#4040a8 60%,#3a3aa0 100%)"></div>
<div class="abs" style="left:1507.5px;top:0;width:1px;height:14px;background:#34349a"></div>
<div class="abs" style="left:1522px;top:0;width:14px;height:14px;background:linear-gradient(#8c5c98 0%,#6c3478 40%,#5c2468 100%);box-sizing:border-box;border-left:1px solid #6a2048;border-top:1px solid #7a3050"></div>
<svg class="abs" style="left:1494px;top:0" width="42" height="14" viewBox="0 0 42 14"><rect x="4.8" y="7.4" width="4.8" height="2.2" fill="#fff"/><rect x="18" y="4.2" width="4" height="4" fill="none" stroke="#fff" stroke-width="1.1"/><rect x="20" y="6.2" width="4" height="4" fill="#4848ac" stroke="#fff" stroke-width="1.1"/><path d="M32.800 4.600l4.600 4.600M37.400 4.600l-4.600 4.6" stroke="#fff" stroke-width="1.7"/></svg>
</body></html>
